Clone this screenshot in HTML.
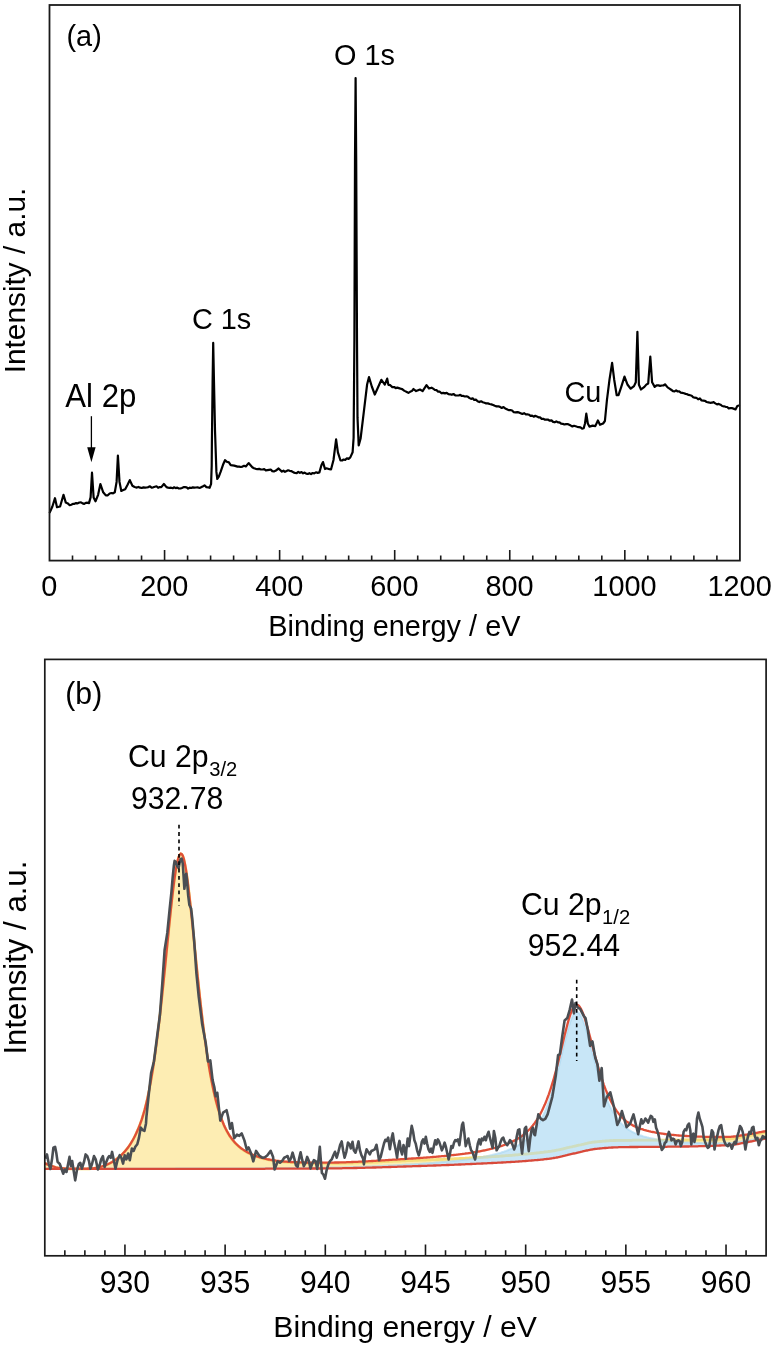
<!DOCTYPE html>
<html lang="en">
<head>
<meta charset="utf-8">
<title>XPS spectra</title>
<style>
html,body{margin:0;padding:0;background:#fff;}
body{width:775px;height:1346px;overflow:hidden;}
svg{display:block;will-change:transform;transform:translateZ(0);}
svg text{font-family:"Liberation Sans", sans-serif;fill:#000;}
</style>
</head>
<body>
<svg width="775" height="1346" viewBox="0 0 775 1346">
<rect width="775" height="1346" fill="#fff"/>
<g id="panel-a">
<polyline points="49.8,512.4 52.4,506.5 55.0,498.2 57.0,507.2 60.1,506.5 63.5,494.8 65.8,502.6 67.8,503.4 69.7,505.2 71.3,504.8 72.9,503.9 74.5,503.8 76.1,503.1 77.7,503.4 79.3,502.5 81.0,502.4 82.6,503.4 84.2,503.9 85.8,502.8 87.4,502.7 89.0,503.1 90.6,497.4 92.0,472.7 93.6,497.4 95.5,501.3 98.1,494.8 100.4,484.0 103.2,492.3 105.8,495.4 107.8,495.3 109.7,493.5 111.4,493.0 113.1,493.3 114.8,492.3 116.6,481.9 117.9,455.6 119.5,481.9 121.3,491.0 123.2,490.1 125.2,489.2 127.7,484.5 129.8,480.1 132.4,485.8 134.6,487.0 136.8,487.6 138.5,486.9 140.1,487.7 141.8,488.0 143.4,487.4 145.1,487.7 146.7,487.5 148.4,487.1 150.0,486.3 151.6,487.6 153.2,487.3 154.9,486.7 156.5,486.3 158.1,487.8 159.7,487.1 161.3,487.1 163.9,484.0 166.5,487.1 168.0,487.6 169.6,487.9 171.1,487.7 172.7,488.2 174.2,487.3 175.7,488.1 177.3,487.6 178.8,488.5 180.4,488.5 181.9,487.9 183.5,487.2 185.0,487.2 186.6,487.3 188.1,488.6 189.7,487.7 191.2,488.0 192.8,487.4 194.4,487.7 195.9,487.5 197.5,487.4 199.0,487.8 200.6,487.6 202.6,486.6 204.5,485.3 206.4,487.1 208.4,487.4 209.6,487.8 211.1,483.8 211.7,466.0 211.9,442.1 212.6,382.6 213.2,342.9 214.0,382.6 215.0,430.2 215.8,454.0 216.4,471.9 217.3,479.0 218.8,476.7 220.6,471.9 223.0,464.8 225.0,460.2 226.9,461.8 228.9,462.4 230.7,465.2 234.2,465.6 235.9,466.1 237.5,466.6 239.2,466.6 240.8,467.0 242.5,466.6 244.1,465.8 245.8,466.5 248.6,463.1 252.3,467.2 254.0,468.2 255.7,468.8 257.5,469.1 259.2,468.9 260.9,469.5 262.6,469.5 264.2,469.1 265.8,470.4 267.4,470.1 269.1,469.8 270.7,469.5 272.3,471.1 273.9,471.5 275.5,470.8 278.6,468.5 281.9,471.6 283.5,470.7 285.0,471.8 286.6,471.0 288.1,470.3 289.7,470.8 291.6,471.2 293.5,472.4 295.1,473.0 296.7,473.2 298.3,471.8 299.9,472.9 301.5,472.0 303.1,473.3 304.6,472.6 306.2,473.7 307.8,474.0 309.4,473.2 311.0,474.1 312.6,473.0 314.2,473.4 315.9,472.3 317.7,472.9 319.4,472.4 321.4,465.2 323.0,462.1 325.0,469.0 326.5,468.3 328.0,468.7 329.5,469.2 331.0,469.5 333.5,460.0 336.1,439.4 337.9,452.3 340.5,460.5 342.1,460.5 343.6,459.5 345.2,460.0 346.9,458.3 348.6,458.9 350.3,457.4 352.6,452.3 353.6,438.0 354.4,340.0 355.0,160.0 355.6,78.1 356.2,160.0 357.0,340.0 357.5,417.4 358.7,445.5 360.6,438.5 363.7,412.8 367.1,384.5 369.0,377.1 371.8,386.5 374.8,394.5 377.4,388.8 381.4,379.8 384.8,384.6 387.2,378.6 388.4,384.8 390.3,385.2 392.3,387.1 394.2,387.0 395.7,388.1 397.3,387.6 398.8,388.1 400.4,388.6 401.9,389.0 403.5,390.2 405.1,391.1 406.8,392.0 408.4,392.9 410.1,391.8 411.8,391.1 413.5,389.0 416.1,391.1 418.1,390.3 420.0,389.5 422.6,391.1 426.5,385.2 429.0,388.5 431.6,387.7 433.2,388.6 434.9,390.0 436.5,390.2 438.1,391.6 439.8,391.7 441.5,393.3 443.2,392.9 445.0,393.4 446.7,392.9 448.4,394.2 450.1,394.3 451.8,394.8 453.5,394.0 455.3,395.3 457.0,395.5 458.7,395.5 460.3,394.9 461.8,396.0 463.4,395.9 464.9,396.5 466.5,396.3 468.0,396.8 469.6,398.1 471.1,398.9 472.7,398.3 474.2,399.9 475.9,399.6 477.6,401.2 479.4,402.1 481.1,401.3 482.8,402.2 484.5,402.7 486.2,403.4 487.9,403.4 489.6,404.0 491.4,404.4 493.1,405.0 494.8,405.8 496.5,406.4 498.3,406.3 500.0,406.9 501.7,408.0 503.5,407.1 505.2,408.4 506.9,409.2 508.6,410.1 510.4,410.0 512.1,410.5 513.8,412.2 515.5,412.3 517.2,412.2 518.9,412.4 520.6,413.2 522.4,414.0 524.1,413.2 525.8,414.3 527.4,414.3 529.0,414.7 530.5,415.9 532.1,415.6 533.7,416.7 535.3,415.8 536.8,416.4 538.4,417.3 540.0,417.4 541.7,418.9 543.3,418.8 545.0,419.7 546.6,419.5 548.2,419.7 549.8,420.7 551.5,420.4 553.1,421.9 554.7,422.3 556.3,421.4 557.9,422.3 559.5,422.3 561.1,423.7 562.7,423.8 564.3,424.5 566.0,424.1 567.6,424.1 569.2,424.8 570.8,425.6 572.4,426.5 574.0,425.8 575.6,426.3 577.2,426.8 578.9,427.1 580.5,427.4 582.1,428.6 583.7,428.2 585.0,423.5 586.3,413.7 587.8,423.5 589.4,426.6 592.7,425.6 595.3,426.1 597.9,420.5 600.0,424.8 603.1,423.5 604.9,421.0 606.9,400.3 609.5,379.7 612.1,362.9 614.2,379.7 616.7,395.2 618.5,395.2 621.1,387.4 624.5,376.6 627.6,384.8 630.7,388.7 634.0,386.1 635.8,382.3 637.4,331.9 638.9,384.8 641.0,389.5 644.4,386.9 646.3,384.6 648.2,383.5 650.3,356.5 652.1,382.3 654.7,386.9 656.6,385.3 658.5,385.4 660.1,385.9 661.8,385.5 663.4,385.5 665.0,384.3 667.6,387.4 669.5,388.6 671.5,390.0 673.0,391.1 674.6,391.3 676.1,390.3 677.7,391.5 679.2,391.3 680.8,392.6 682.4,392.9 684.0,393.3 685.6,393.9 687.1,394.2 688.6,394.9 690.2,395.3 691.7,395.7 693.2,397.2 694.7,397.7 696.4,397.8 698.1,399.3 699.9,398.4 701.6,400.5 703.3,400.6 705.0,400.8 706.7,402.0 708.4,402.4 710.1,402.8 711.9,402.7 713.6,402.1 715.3,403.4 717.0,404.4 718.7,403.9 720.5,404.7 722.2,406.0 723.9,406.3 725.6,406.8 727.2,407.0 728.7,408.3 730.3,408.1 731.8,408.0 733.4,408.6 735.5,409.4 737.3,406.0 739.0,405.5" fill="none" stroke="#000" stroke-width="2.2" stroke-linejoin="round" stroke-linecap="round"/>
<rect x="49.5" y="5.0" width="690.4" height="555.6" fill="none" stroke="#1a1a1a" stroke-width="1.8"/>
<path d="M72.51,560.6v-5.2M95.53,560.6v-5.2M118.54,560.6v-5.2M141.55,560.6v-5.2M164.57,560.6v-10.5M187.58,560.6v-5.2M210.59,560.6v-5.2M233.61,560.6v-5.2M256.62,560.6v-5.2M279.63,560.6v-10.5M302.65,560.6v-5.2M325.66,560.6v-5.2M348.67,560.6v-5.2M371.69,560.6v-5.2M394.70,560.6v-10.5M417.71,560.6v-5.2M440.73,560.6v-5.2M463.74,560.6v-5.2M486.75,560.6v-5.2M509.77,560.6v-10.5M532.78,560.6v-5.2M555.79,560.6v-5.2M578.81,560.6v-5.2M601.82,560.6v-5.2M624.83,560.6v-10.5M647.85,560.6v-5.2M670.86,560.6v-5.2M693.87,560.6v-5.2M716.89,560.6v-5.2" stroke="#1a1a1a" stroke-width="1.6" fill="none"/>
<text transform="translate(49.2,595.8) scale(1,1.045)" text-anchor="middle" font-size="28.9">0</text>
<text transform="translate(164.3,595.8) scale(1,1.045)" text-anchor="middle" font-size="28.9">200</text>
<text transform="translate(279.3,595.8) scale(1,1.045)" text-anchor="middle" font-size="28.9">400</text>
<text transform="translate(394.4,595.8) scale(1,1.045)" text-anchor="middle" font-size="28.9">600</text>
<text transform="translate(509.5,595.8) scale(1,1.045)" text-anchor="middle" font-size="28.9">800</text>
<text transform="translate(624.5,595.8) scale(1,1.045)" text-anchor="middle" font-size="28.9">1000</text>
<text transform="translate(739.6,595.8) scale(1,1.045)" text-anchor="middle" font-size="28.9">1200</text>
<text transform="translate(394.4,636.0) scale(1,1.0)" text-anchor="middle" font-size="28.9">Binding energy / eV</text>
<text transform="translate(24.7,280.5) rotate(-90) scale(1.032,1.04)" text-anchor="middle" font-size="28.9">Intensity / a.u.</text>
<text transform="translate(66.5,45.5) scale(1,1.045)" font-size="28.9">(a)</text>
<text transform="translate(334.0,65.2) scale(1,1.045)" font-size="28.9">O 1s</text>
<text transform="translate(191.9,329.4) scale(1,1.045)" font-size="28.9">C 1s</text>
<text transform="translate(65.3,406.5) scale(1,1.045)" font-size="31.2">Al 2p</text>
<text transform="translate(564.4,401.8) scale(1,1.045)" font-size="28.9">Cu</text>
<path d="M91.4,416.2V448" stroke="#000" stroke-width="1.3" fill="none"/>
<path d="M87.2,447.2H95.6L91.4,462.3Z" fill="#000"/>
</g>
<g id="panel-b">
<clipPath id="cb"><rect x="44.8" y="659.4" width="721.3" height="596.4"/></clipPath>
<g clip-path="url(#cb)">
<polygon points="44.8,1163.3 45.8,1163.7 46.8,1164.2 47.8,1164.6 48.8,1165.1 49.8,1165.5 50.8,1165.9 51.8,1166.2 52.8,1166.5 53.8,1166.8 54.8,1167.1 55.8,1167.4 56.8,1167.6 57.8,1167.9 58.8,1168.1 59.8,1168.2 60.8,1168.4 61.8,1168.5 62.8,1168.5 63.8,1168.6 64.8,1168.7 65.8,1168.7 66.8,1168.8 67.8,1168.8 68.8,1168.8 69.8,1168.9 70.8,1168.9 71.8,1168.9 72.8,1168.9 73.8,1168.9 74.8,1168.9 75.8,1168.9 76.8,1168.9 77.8,1168.9 78.8,1168.9 79.8,1168.9 80.8,1168.9 81.8,1168.9 82.8,1168.9 83.8,1168.9 84.8,1168.9 85.8,1168.9 86.8,1168.9 87.8,1168.9 88.8,1168.8 89.8,1168.8 90.8,1168.7 91.8,1168.6 92.8,1168.5 93.8,1168.4 94.8,1168.2 95.8,1168.1 96.8,1167.9 97.8,1167.7 98.8,1167.4 99.8,1167.2 100.8,1166.9 101.8,1166.6 102.8,1166.3 103.8,1166.0 104.8,1165.6 105.8,1165.2 106.8,1164.8 107.8,1164.4 108.8,1163.9 109.8,1163.4 110.8,1162.9 111.8,1162.3 112.8,1161.7 113.8,1161.1 114.8,1160.4 115.8,1159.7 116.8,1159.0 117.8,1158.2 118.8,1157.4 119.8,1156.6 120.8,1155.7 121.8,1154.7 122.8,1153.7 123.8,1152.7 124.8,1151.5 125.8,1150.4 126.8,1149.1 127.8,1147.8 128.8,1146.5 129.8,1145.0 130.8,1143.5 131.8,1141.9 132.8,1140.1 133.8,1138.3 134.8,1136.4 135.8,1134.4 136.8,1132.2 137.8,1129.9 138.8,1127.5 139.8,1125.0 140.8,1122.3 141.8,1119.4 142.8,1116.3 143.8,1113.0 144.8,1109.4 145.8,1105.5 146.8,1101.4 147.8,1096.9 148.8,1092.1 149.8,1087.0 150.8,1081.6 151.8,1075.8 152.8,1069.7 153.8,1063.2 154.8,1056.3 155.8,1049.1 156.8,1041.5 157.8,1033.6 158.8,1025.3 159.8,1016.7 160.8,1007.8 161.8,998.6 162.8,989.1 163.8,979.4 164.8,969.6 165.8,959.6 166.8,949.6 167.8,939.5 168.8,929.6 169.8,919.8 170.8,910.2 171.8,901.1 172.8,892.4 173.8,884.3 174.8,876.9 175.8,870.4 176.8,864.8 177.8,860.3 178.8,856.9 179.8,854.8 180.8,853.9 181.8,854.3 182.8,856.1 183.8,859.1 184.8,863.5 185.8,868.9 186.8,875.5 187.8,882.9 188.8,891.0 189.8,899.8 190.8,909.1 191.8,918.8 192.8,928.7 193.8,938.7 194.8,948.7 195.8,958.7 196.8,968.6 197.8,978.4 198.8,987.9 199.8,997.1 200.8,1006.1 201.8,1014.7 202.8,1023.1 203.8,1031.0 204.8,1038.7 205.8,1045.9 206.8,1052.9 207.8,1059.4 208.8,1065.7 209.8,1071.6 210.8,1077.2 211.8,1082.4 212.8,1087.4 213.8,1092.0 214.8,1096.4 215.8,1100.5 216.8,1104.3 217.8,1107.9 218.8,1111.2 219.8,1114.4 220.8,1117.3 221.8,1120.0 222.8,1122.6 223.8,1125.0 224.8,1127.2 225.8,1129.2 226.8,1131.2 227.8,1133.0 228.8,1134.7 229.8,1136.3 230.8,1137.7 231.8,1139.1 232.8,1140.4 233.8,1141.6 234.8,1142.8 235.8,1143.8 236.8,1144.8 237.8,1145.8 238.8,1146.7 239.8,1147.5 240.8,1148.3 241.8,1149.0 242.8,1149.8 243.8,1150.4 244.8,1151.1 245.8,1151.7 246.8,1152.2 247.8,1152.8 248.8,1153.3 249.8,1153.8 250.8,1154.3 251.8,1154.7 252.8,1155.1 253.8,1155.6 254.8,1155.9 255.8,1156.3 256.8,1156.7 257.8,1157.0 258.8,1157.3 259.8,1157.6 260.8,1157.9 261.8,1158.2 262.8,1158.5 263.8,1158.8 264.8,1159.0 265.8,1159.2 266.8,1159.5 267.8,1159.7 268.8,1159.9 269.8,1160.1 270.8,1160.3 271.8,1160.5 272.8,1160.7 273.8,1160.8 274.8,1161.0 275.8,1161.1 276.8,1161.2 277.8,1161.4 278.8,1161.5 279.8,1161.6 280.8,1161.7 281.8,1161.8 282.8,1161.9 283.8,1162.0 284.8,1162.1 285.8,1162.2 286.8,1162.2 287.8,1162.3 288.8,1162.4 289.8,1162.4 290.8,1162.5 291.8,1162.5 292.8,1162.6 293.8,1162.6 294.8,1162.7 295.8,1162.7 296.8,1162.8 297.8,1162.8 298.8,1162.9 299.8,1162.9 300.8,1162.9 301.8,1163.0 302.8,1163.0 303.8,1163.1 304.8,1163.1 305.8,1163.1 306.8,1163.1 307.8,1163.2 308.8,1163.2 309.8,1163.2 310.8,1163.2 311.8,1163.2 312.8,1163.3 313.8,1163.3 314.8,1163.3 315.8,1163.3 316.8,1163.3 317.8,1163.3 318.8,1163.3 319.8,1163.3 320.8,1163.3 321.8,1163.4 322.8,1163.4 323.8,1163.4 324.8,1163.4 325.8,1163.4 326.8,1163.4 327.8,1163.4 328.8,1163.4 329.8,1163.4 330.8,1163.4 331.8,1163.4 332.8,1163.3 333.8,1163.3 334.8,1163.3 335.8,1163.3 336.8,1163.3 337.8,1163.3 338.8,1163.3 339.8,1163.3 340.8,1163.3 341.8,1163.2 342.8,1163.2 343.8,1163.2 344.8,1163.2 345.8,1163.2 346.8,1163.1 347.8,1163.1 348.8,1163.1 349.8,1163.0 350.8,1163.0 351.8,1163.0 352.8,1163.0 353.8,1162.9 354.8,1162.9 355.8,1162.9 356.8,1162.8 357.8,1162.8 358.8,1162.8 359.8,1162.7 360.8,1162.7 361.8,1162.6 362.8,1162.6 363.8,1162.6 364.8,1162.5 365.8,1162.5 366.8,1162.4 367.8,1162.4 368.8,1162.4 369.8,1162.3 370.8,1162.3 371.8,1162.2 372.8,1162.2 373.8,1162.1 374.8,1162.1 375.8,1162.1 376.8,1162.0 377.8,1162.0 378.8,1161.9 379.8,1161.9 380.8,1161.8 381.8,1161.8 382.8,1161.7 383.8,1161.7 384.8,1161.6 385.8,1161.6 386.8,1161.6 387.8,1161.5 388.8,1161.5 389.8,1161.4 390.8,1161.4 391.8,1161.3 392.8,1161.3 393.8,1161.2 394.8,1161.2 395.8,1161.2 396.8,1161.1 397.8,1161.1 398.8,1161.0 399.8,1161.0 400.8,1161.0 401.8,1160.9 402.8,1160.9 403.8,1160.8 404.8,1160.8 405.8,1160.8 406.8,1160.7 407.8,1160.7 408.8,1160.6 409.8,1160.6 410.8,1160.6 411.8,1160.5 412.8,1160.5 413.8,1160.4 414.8,1160.4 415.8,1160.4 416.8,1160.3 417.8,1160.3 418.8,1160.2 419.8,1160.2 420.8,1160.2 421.8,1160.1 422.8,1160.1 423.8,1160.1 424.8,1160.0 425.8,1160.0 426.8,1159.9 427.8,1159.9 428.8,1159.9 429.8,1159.8 430.8,1159.8 431.8,1159.7 432.8,1159.7 433.8,1159.7 434.8,1159.6 435.8,1159.6 436.8,1159.5 437.8,1159.5 438.8,1159.5 439.8,1159.4 440.8,1159.4 441.8,1159.3 442.8,1159.3 443.8,1159.2 444.8,1159.2 445.8,1159.2 446.8,1159.1 447.8,1159.1 448.8,1159.0 449.8,1159.0 450.8,1158.9 451.8,1158.9 452.8,1158.8 453.8,1158.8 454.8,1158.7 455.8,1158.7 456.8,1158.7 457.8,1158.6 458.8,1158.6 459.8,1158.5 460.8,1158.5 461.8,1158.4 462.8,1158.4 463.8,1158.3 464.8,1158.3 465.8,1158.2 466.8,1158.2 467.8,1158.1 468.8,1158.1 469.8,1158.0 470.8,1157.9 471.8,1157.9 472.8,1157.8 473.8,1157.8 474.8,1157.7 475.8,1157.7 476.8,1157.6 477.8,1157.6 478.8,1157.5 479.8,1157.5 480.8,1157.4 481.8,1157.3 482.8,1157.3 483.8,1157.2 484.8,1157.2 485.8,1157.1 486.8,1157.0 487.8,1157.0 488.8,1156.9 489.8,1156.9 490.8,1156.8 491.8,1156.7 492.8,1156.7 493.8,1156.6 494.8,1156.5 495.8,1156.5 496.8,1156.4 497.8,1156.3 498.8,1156.3 499.8,1156.2 500.8,1156.1 501.8,1156.0 502.8,1156.0 503.8,1155.9 504.8,1155.8 505.8,1155.7 506.8,1155.7 507.8,1155.6 508.8,1155.5 509.8,1155.4 510.8,1155.4 511.8,1155.3 512.8,1155.2 513.8,1155.1 514.8,1155.0 515.8,1154.9 516.8,1154.9 517.8,1154.8 518.8,1154.7 519.8,1154.6 520.8,1154.5 521.8,1154.4 522.8,1154.3 523.8,1154.2 524.8,1154.2 525.8,1154.1 526.8,1154.0 527.8,1153.9 528.8,1153.8 529.8,1153.7 530.8,1153.6 531.8,1153.5 532.8,1153.4 533.8,1153.3 534.8,1153.2 535.8,1153.1 536.8,1153.0 537.8,1152.9 538.8,1152.8 539.8,1152.6 540.8,1152.5 541.8,1152.4 542.8,1152.3 543.8,1152.2 544.8,1152.0 545.8,1151.9 546.8,1151.8 547.8,1151.7 548.8,1151.5 549.8,1151.4 550.8,1151.3 551.8,1151.1 552.8,1150.9 553.8,1150.8 554.8,1150.6 555.8,1150.4 556.8,1150.2 557.8,1150.0 558.8,1149.8 559.8,1149.6 560.8,1149.3 561.8,1149.1 562.8,1148.9 563.8,1148.6 564.8,1148.4 565.8,1148.2 566.8,1147.9 567.8,1147.7 568.8,1147.5 569.8,1147.2 570.8,1147.0 571.8,1146.8 572.8,1146.5 573.8,1146.3 574.8,1146.1 575.8,1145.9 576.8,1145.6 577.8,1145.4 578.8,1145.2 579.8,1145.0 580.8,1144.8 581.8,1144.5 582.8,1144.3 583.8,1144.1 584.8,1143.8 585.8,1143.6 586.8,1143.4 587.8,1143.1 588.8,1142.9 589.8,1142.7 590.8,1142.6 591.8,1142.4 592.8,1142.2 593.8,1142.1 594.8,1142.0 595.8,1141.9 596.8,1141.8 597.8,1141.7 598.8,1141.6 599.8,1141.5 600.8,1141.4 601.8,1141.3 602.8,1141.2 603.8,1141.2 604.8,1141.1 605.8,1141.0 606.8,1140.9 607.8,1140.9 608.8,1140.8 609.8,1140.7 610.8,1140.7 611.8,1140.6 612.8,1140.6 613.8,1140.5 614.8,1140.5 615.8,1140.5 616.8,1140.4 617.8,1140.4 618.8,1140.4 619.8,1140.4 620.8,1140.4 621.8,1140.3 622.8,1140.3 623.8,1140.3 624.8,1140.3 625.8,1140.3 626.8,1140.3 627.8,1140.3 628.8,1140.3 629.8,1140.3 630.8,1140.3 631.8,1140.3 632.8,1140.2 633.8,1140.2 634.8,1140.2 635.8,1140.2 636.8,1140.2 637.8,1140.2 638.8,1140.2 639.8,1140.2 640.8,1140.2 641.8,1140.2 642.8,1140.2 643.8,1140.2 644.8,1140.2 645.8,1140.2 646.8,1140.2 647.8,1140.2 648.8,1140.2 649.8,1140.2 650.8,1140.2 651.8,1140.2 652.8,1140.2 653.8,1140.2 654.8,1140.2 655.8,1140.2 656.8,1140.2 657.8,1140.2 658.8,1140.2 659.8,1140.2 660.8,1140.2 661.8,1140.2 662.8,1140.2 663.8,1140.2 664.8,1140.2 665.8,1140.2 666.8,1140.2 667.8,1140.2 668.8,1140.2 669.8,1140.2 670.8,1140.1 671.8,1140.1 672.8,1140.1 673.8,1140.1 674.8,1140.1 675.8,1140.1 676.8,1140.1 677.8,1140.1 678.8,1140.1 679.8,1140.1 680.8,1140.1 681.8,1140.1 682.8,1140.0 683.8,1140.0 684.8,1140.0 685.8,1140.0 686.8,1140.0 687.8,1140.0 688.8,1140.0 689.8,1140.0 690.8,1139.9 691.8,1139.9 692.8,1139.9 693.8,1139.9 694.8,1139.9 695.8,1139.9 696.8,1139.9 697.8,1139.8 698.8,1139.8 699.8,1139.8 700.8,1139.8 701.8,1139.8 702.8,1139.7 703.8,1139.7 704.8,1139.7 705.8,1139.7 706.8,1139.6 707.8,1139.6 708.8,1139.6 709.8,1139.6 710.8,1139.5 711.8,1139.5 712.8,1139.5 713.8,1139.4 714.8,1139.4 715.8,1139.4 716.8,1139.3 717.8,1139.3 718.8,1139.3 719.8,1139.2 720.8,1139.2 721.8,1139.2 722.8,1139.1 723.8,1139.1 724.8,1139.0 725.8,1139.0 726.8,1138.9 727.8,1138.9 728.8,1138.8 729.8,1138.8 730.8,1138.7 731.8,1138.6 732.8,1138.5 733.8,1138.4 734.8,1138.3 735.8,1138.1 736.8,1137.9 737.8,1137.8 738.8,1137.6 739.8,1137.4 740.8,1137.2 741.8,1137.0 742.8,1136.8 743.8,1136.7 744.8,1136.5 745.8,1136.3 746.8,1136.1 747.8,1136.0 748.8,1135.8 749.8,1135.6 750.8,1135.4 751.8,1135.2 752.8,1135.0 753.8,1134.8 754.8,1134.6 755.8,1134.4 756.8,1134.2 757.8,1134.0 758.8,1133.8 759.8,1133.6 760.8,1133.3 761.8,1133.1 762.8,1132.9 763.8,1132.7 764.8,1132.5 765.8,1132.3 766.1,1132.3 766.1,1137.1 765.8,1137.1 764.8,1137.3 763.8,1137.5 762.8,1137.7 761.8,1137.9 760.8,1138.1 759.8,1138.3 758.8,1138.5 757.8,1138.7 756.8,1138.9 755.8,1139.1 754.8,1139.3 753.8,1139.5 752.8,1139.7 751.8,1139.8 750.8,1140.0 749.8,1140.2 748.8,1140.4 747.8,1140.6 746.8,1140.7 745.8,1140.9 744.8,1141.0 743.8,1141.2 742.8,1141.4 741.8,1141.5 740.8,1141.7 739.8,1141.9 738.8,1142.1 737.8,1142.2 736.8,1142.4 735.8,1142.5 734.8,1142.6 733.8,1142.8 732.8,1142.9 731.8,1142.9 730.8,1143.0 729.8,1143.1 728.8,1143.1 727.8,1143.1 726.8,1143.1 725.8,1143.2 724.8,1143.2 723.8,1143.2 722.8,1143.2 721.8,1143.2 720.8,1143.3 719.8,1143.3 718.8,1143.3 717.8,1143.3 716.8,1143.3 715.8,1143.3 714.8,1143.3 713.8,1143.3 712.8,1143.3 711.8,1143.3 710.8,1143.3 709.8,1143.3 708.8,1143.3 707.8,1143.3 706.8,1143.2 705.8,1143.2 704.8,1143.2 703.8,1143.2 702.8,1143.2 701.8,1143.1 700.8,1143.1 699.8,1143.1 698.8,1143.1 697.8,1143.0 696.8,1143.0 695.8,1143.0 694.8,1142.9 693.8,1142.9 692.8,1142.8 691.8,1142.8 690.8,1142.7 689.8,1142.7 688.8,1142.6 687.8,1142.6 686.8,1142.5 685.8,1142.5 684.8,1142.4 683.8,1142.4 682.8,1142.3 681.8,1142.2 680.8,1142.2 679.8,1142.1 678.8,1142.0 677.8,1141.9 676.8,1141.9 675.8,1141.8 674.8,1141.7 673.8,1141.6 672.8,1141.5 671.8,1141.4 670.8,1141.3 669.8,1141.2 668.8,1141.1 667.8,1141.0 666.8,1140.8 665.8,1140.7 664.8,1140.6 663.8,1140.5 662.8,1140.3 661.8,1140.2 660.8,1140.2 659.8,1140.2 658.8,1140.2 657.8,1140.2 656.8,1140.2 655.8,1140.2 654.8,1140.2 653.8,1140.2 652.8,1140.2 651.8,1140.2 650.8,1140.2 649.8,1140.2 648.8,1140.2 647.8,1140.2 646.8,1140.2 645.8,1140.2 644.8,1140.2 643.8,1140.2 642.8,1140.2 641.8,1140.2 640.8,1140.2 639.8,1140.2 638.8,1140.2 637.8,1140.2 636.8,1140.2 635.8,1140.2 634.8,1140.2 633.8,1140.2 632.8,1140.2 631.8,1140.3 630.8,1140.3 629.8,1140.3 628.8,1140.3 627.8,1140.3 626.8,1140.3 625.8,1140.3 624.8,1140.3 623.8,1140.3 622.8,1140.3 621.8,1140.3 620.8,1140.4 619.8,1140.4 618.8,1140.4 617.8,1140.4 616.8,1140.4 615.8,1140.5 614.8,1140.5 613.8,1140.5 612.8,1140.6 611.8,1140.6 610.8,1140.7 609.8,1140.7 608.8,1140.8 607.8,1140.9 606.8,1140.9 605.8,1141.0 604.8,1141.1 603.8,1141.2 602.8,1141.2 601.8,1141.3 600.8,1141.4 599.8,1141.5 598.8,1141.6 597.8,1141.7 596.8,1141.8 595.8,1141.9 594.8,1142.0 593.8,1142.1 592.8,1142.2 591.8,1142.4 590.8,1142.6 589.8,1142.7 588.8,1142.9 587.8,1143.1 586.8,1143.4 585.8,1143.6 584.8,1143.8 583.8,1144.1 582.8,1144.3 581.8,1144.5 580.8,1144.8 579.8,1145.0 578.8,1145.2 577.8,1145.4 576.8,1145.6 575.8,1145.9 574.8,1146.1 573.8,1146.3 572.8,1146.5 571.8,1146.8 570.8,1147.0 569.8,1147.2 568.8,1147.5 567.8,1147.7 566.8,1147.9 565.8,1148.2 564.8,1148.4 563.8,1148.6 562.8,1148.9 561.8,1149.1 560.8,1149.3 559.8,1149.6 558.8,1149.8 557.8,1150.0 556.8,1150.2 555.8,1150.4 554.8,1150.6 553.8,1150.8 552.8,1150.9 551.8,1151.1 550.8,1151.3 549.8,1151.4 548.8,1151.5 547.8,1151.7 546.8,1151.8 545.8,1151.9 544.8,1152.0 543.8,1152.2 542.8,1152.3 541.8,1152.4 540.8,1152.5 539.8,1152.6 538.8,1152.8 537.8,1152.9 536.8,1153.0 535.8,1153.1 534.8,1153.2 533.8,1153.3 532.8,1153.4 531.8,1153.5 530.8,1153.6 529.8,1153.7 528.8,1153.8 527.8,1153.9 526.8,1154.0 525.8,1154.1 524.8,1154.2 523.8,1154.2 522.8,1154.3 521.8,1154.4 520.8,1154.5 519.8,1154.6 518.8,1154.7 517.8,1154.8 516.8,1154.9 515.8,1154.9 514.8,1155.0 513.8,1155.1 512.8,1155.2 511.8,1155.3 510.8,1155.4 509.8,1155.4 508.8,1155.5 507.8,1155.6 506.8,1155.7 505.8,1155.7 504.8,1155.8 503.8,1155.9 502.8,1156.0 501.8,1156.0 500.8,1156.1 499.8,1156.2 498.8,1156.3 497.8,1156.3 496.8,1156.4 495.8,1156.5 494.8,1156.5 493.8,1156.6 492.8,1156.7 491.8,1156.7 490.8,1156.8 489.8,1156.9 488.8,1156.9 487.8,1157.0 486.8,1157.0 485.8,1157.1 484.8,1157.2 483.8,1157.2 482.8,1157.3 481.8,1157.3 480.8,1157.4 479.8,1157.5 478.8,1157.6 477.8,1157.8 476.8,1158.0 475.8,1158.1 474.8,1158.3 473.8,1158.5 472.8,1158.6 471.8,1158.8 470.8,1158.9 469.8,1159.0 468.8,1159.2 467.8,1159.3 466.8,1159.4 465.8,1159.6 464.8,1159.7 463.8,1159.8 462.8,1160.0 461.8,1160.1 460.8,1160.2 459.8,1160.3 458.8,1160.4 457.8,1160.6 456.8,1160.7 455.8,1160.8 454.8,1160.9 453.8,1161.0 452.8,1161.1 451.8,1161.2 450.8,1161.3 449.8,1161.4 448.8,1161.5 447.8,1161.6 446.8,1161.7 445.8,1161.8 444.8,1161.9 443.8,1162.0 442.8,1162.1 441.8,1162.1 440.8,1162.2 439.8,1162.3 438.8,1162.4 437.8,1162.5 436.8,1162.6 435.8,1162.6 434.8,1162.7 433.8,1162.8 432.8,1162.9 431.8,1163.0 430.8,1163.0 429.8,1163.1 428.8,1163.2 427.8,1163.3 426.8,1163.3 425.8,1163.4 424.8,1163.5 423.8,1163.5 422.8,1163.6 421.8,1163.7 420.8,1163.7 419.8,1163.8 418.8,1163.9 417.8,1163.9 416.8,1164.0 415.8,1164.0 414.8,1164.1 413.8,1164.2 412.8,1164.2 411.8,1164.3 410.8,1164.3 409.8,1164.4 408.8,1164.5 407.8,1164.5 406.8,1164.6 405.8,1164.6 404.8,1164.7 403.8,1164.8 402.8,1164.8 401.8,1164.9 400.8,1164.9 399.8,1165.0 398.8,1165.0 397.8,1165.1 396.8,1165.2 395.8,1165.2 394.8,1165.3 393.8,1165.3 392.8,1165.4 391.8,1165.4 390.8,1165.5 389.8,1165.5 388.8,1165.6 387.8,1165.6 386.8,1165.7 385.8,1165.7 384.8,1165.8 383.8,1165.8 382.8,1165.9 381.8,1165.9 380.8,1166.0 379.8,1166.0 378.8,1166.1 377.8,1166.1 376.8,1166.2 375.8,1166.2 374.8,1166.2 373.8,1166.3 372.8,1166.3 371.8,1166.4 370.8,1166.4 369.8,1166.5 368.8,1166.5 367.8,1166.5 366.8,1166.6 365.8,1166.6 364.8,1166.7 363.8,1166.7 362.8,1166.7 361.8,1166.8 360.8,1166.8 359.8,1166.9 358.8,1166.9 357.8,1166.9 356.8,1167.0 355.8,1167.0 354.8,1167.0 353.8,1167.1 352.8,1167.1 351.8,1167.1 350.8,1167.2 349.8,1167.2 348.8,1167.2 347.8,1167.2 346.8,1167.3 345.8,1167.3 344.8,1167.3 343.8,1167.4 342.8,1167.4 341.8,1167.4 340.8,1167.4 339.8,1167.5 338.8,1167.5 337.8,1167.5 336.8,1167.5 335.8,1167.5 334.8,1167.6 333.8,1167.6 332.8,1167.6 331.8,1167.6 330.8,1167.6 329.8,1167.6 328.8,1167.7 327.8,1167.7 326.8,1167.7 325.8,1167.7 324.8,1167.7 323.8,1167.7 322.8,1167.7 321.8,1167.8 320.8,1167.8 319.8,1167.8 318.8,1167.8 317.8,1167.8 316.8,1167.8 315.8,1167.8 314.8,1167.9 313.8,1167.9 312.8,1167.9 311.8,1167.9 310.8,1167.9 309.8,1167.9 308.8,1167.9 307.8,1167.9 306.8,1168.0 305.8,1168.0 304.8,1168.0 303.8,1168.0 302.8,1168.0 301.8,1168.0 300.8,1168.0 299.8,1168.0 298.8,1168.0 297.8,1168.1 296.8,1168.1 295.8,1168.1 294.8,1168.1 293.8,1168.1 292.8,1168.1 291.8,1168.1 290.8,1168.1 289.8,1168.1 288.8,1168.1 287.8,1168.2 286.8,1168.2 285.8,1168.2 284.8,1168.2 283.8,1168.2 282.8,1168.2 281.8,1168.2 280.8,1168.2 279.8,1168.2 278.8,1168.2 277.8,1168.2 276.8,1168.3 275.8,1168.3 274.8,1168.3 273.8,1168.3 272.8,1168.3 271.8,1168.3 270.8,1168.3 269.8,1168.3 268.8,1168.3 267.8,1168.3 266.8,1168.3 265.8,1168.3 264.8,1168.3 263.8,1168.3 262.8,1168.4 261.8,1168.4 260.8,1168.4 259.8,1168.4 258.8,1168.4 257.8,1168.4 256.8,1168.4 255.8,1168.4 254.8,1168.4 253.8,1168.4 252.8,1168.4 251.8,1168.4 250.8,1168.4 249.8,1168.4 248.8,1168.4 247.8,1168.4 246.8,1168.4 245.8,1168.4 244.8,1168.5 243.8,1168.5 242.8,1168.5 241.8,1168.5 240.8,1168.5 239.8,1168.5 238.8,1168.5 237.8,1168.5 236.8,1168.5 235.8,1168.5 234.8,1168.5 233.8,1168.5 232.8,1168.5 231.8,1168.5 230.8,1168.5 229.8,1168.5 228.8,1168.5 227.8,1168.5 226.8,1168.5 225.8,1168.5 224.8,1168.5 223.8,1168.5 222.8,1168.5 221.8,1168.5 220.8,1168.5 219.8,1168.5 218.8,1168.5 217.8,1168.5 216.8,1168.5 215.8,1168.6 214.8,1168.6 213.8,1168.6 212.8,1168.6 211.8,1168.6 210.8,1168.6 209.8,1168.6 208.8,1168.6 207.8,1168.6 206.8,1168.6 205.8,1168.6 204.8,1168.6 203.8,1168.6 202.8,1168.6 201.8,1168.6 200.8,1168.6 199.8,1168.6 198.8,1168.6 197.8,1168.6 196.8,1168.6 195.8,1168.6 194.8,1168.6 193.8,1168.6 192.8,1168.6 191.8,1168.6 190.8,1168.6 189.8,1168.6 188.8,1168.6 187.8,1168.6 186.8,1168.6 185.8,1168.6 184.8,1168.6 183.8,1168.6 182.8,1168.6 181.8,1168.6 180.8,1168.6 179.8,1168.6 178.8,1168.6 177.8,1168.6 176.8,1168.6 175.8,1168.6 174.8,1168.7 173.8,1168.7 172.8,1168.7 171.8,1168.7 170.8,1168.7 169.8,1168.7 168.8,1168.7 167.8,1168.7 166.8,1168.7 165.8,1168.7 164.8,1168.7 163.8,1168.7 162.8,1168.7 161.8,1168.7 160.8,1168.7 159.8,1168.7 158.8,1168.7 157.8,1168.7 156.8,1168.7 155.8,1168.7 154.8,1168.7 153.8,1168.7 152.8,1168.7 151.8,1168.7 150.8,1168.7 149.8,1168.7 148.8,1168.7 147.8,1168.7 146.8,1168.7 145.8,1168.7 144.8,1168.7 143.8,1168.7 142.8,1168.7 141.8,1168.7 140.8,1168.7 139.8,1168.7 138.8,1168.7 137.8,1168.7 136.8,1168.7 135.8,1168.7 134.8,1168.7 133.8,1168.7 132.8,1168.7 131.8,1168.7 130.8,1168.7 129.8,1168.7 128.8,1168.7 127.8,1168.7 126.8,1168.7 125.8,1168.7 124.8,1168.7 123.8,1168.7 122.8,1168.7 121.8,1168.7 120.8,1168.7 119.8,1168.7 118.8,1168.7 117.8,1168.7 116.8,1168.7 115.8,1168.7 114.8,1168.7 113.8,1168.7 112.8,1168.7 111.8,1168.7 110.8,1168.7 109.8,1168.7 108.8,1168.8 107.8,1168.8 106.8,1168.8 105.8,1168.8 104.8,1168.8 103.8,1168.8 102.8,1168.8 101.8,1168.8 100.8,1168.8 99.8,1168.8 98.8,1168.8 97.8,1168.8 96.8,1168.8 95.8,1168.8 94.8,1168.8 93.8,1168.8 92.8,1168.8 91.8,1168.8 90.8,1168.8 89.8,1168.8 88.8,1168.8 87.8,1168.9 86.8,1168.9 85.8,1168.9 84.8,1168.9 83.8,1168.9 82.8,1168.9 81.8,1168.9 80.8,1168.9 79.8,1168.9 78.8,1168.9 77.8,1168.9 76.8,1168.9 75.8,1168.9 74.8,1168.9 73.8,1168.9 72.8,1168.9 71.8,1168.9 70.8,1168.9 69.8,1168.9 68.8,1168.8 67.8,1168.8 66.8,1168.8 65.8,1168.8 64.8,1168.8 63.8,1168.8 62.8,1168.8 61.8,1168.8 60.8,1168.8 59.8,1168.8 58.8,1168.8 57.8,1168.8 56.8,1168.8 55.8,1168.8 54.8,1168.8 53.8,1168.8 52.8,1168.8 51.8,1168.8 50.8,1168.8 49.8,1168.8 48.8,1168.8 47.8,1168.8 46.8,1168.8 45.8,1168.8 44.8,1168.8" fill="#fdedb3"/>
<polyline points="44.8,1163.3 45.8,1163.7 46.8,1164.2 47.8,1164.6 48.8,1165.1 49.8,1165.5 50.8,1165.9 51.8,1166.2 52.8,1166.5 53.8,1166.8 54.8,1167.1 55.8,1167.4 56.8,1167.6 57.8,1167.9 58.8,1168.1 59.8,1168.2 60.8,1168.4 61.8,1168.5 62.8,1168.5 63.8,1168.6 64.8,1168.7 65.8,1168.7 66.8,1168.8 67.8,1168.8 68.8,1168.8 69.8,1168.9 70.8,1168.9 71.8,1168.9 72.8,1168.9 73.8,1168.9 74.8,1168.9 75.8,1168.9 76.8,1168.9 77.8,1168.9 78.8,1168.9 79.8,1168.9 80.8,1168.9 81.8,1168.9 82.8,1168.9 83.8,1168.9 84.8,1168.9 85.8,1168.9 86.8,1168.9 87.8,1168.9 88.8,1168.8 89.8,1168.8 90.8,1168.7 91.8,1168.6 92.8,1168.5 93.8,1168.4 94.8,1168.2 95.8,1168.1 96.8,1167.9 97.8,1167.7 98.8,1167.4 99.8,1167.2 100.8,1166.9 101.8,1166.6 102.8,1166.3 103.8,1166.0 104.8,1165.6 105.8,1165.2 106.8,1164.8 107.8,1164.4 108.8,1163.9 109.8,1163.4 110.8,1162.9 111.8,1162.3 112.8,1161.7 113.8,1161.1 114.8,1160.4 115.8,1159.7 116.8,1159.0 117.8,1158.2 118.8,1157.4 119.8,1156.6 120.8,1155.7 121.8,1154.7 122.8,1153.7 123.8,1152.7 124.8,1151.5 125.8,1150.4 126.8,1149.1 127.8,1147.8 128.8,1146.5 129.8,1145.0 130.8,1143.5 131.8,1141.9 132.8,1140.1 133.8,1138.3 134.8,1136.4 135.8,1134.4 136.8,1132.2 137.8,1129.9 138.8,1127.5 139.8,1125.0 140.8,1122.3 141.8,1119.4 142.8,1116.3 143.8,1113.0 144.8,1109.4 145.8,1105.5 146.8,1101.4 147.8,1096.9 148.8,1092.1 149.8,1087.0 150.8,1081.6 151.8,1075.8 152.8,1069.7 153.8,1063.2 154.8,1056.3 155.8,1049.1 156.8,1041.5 157.8,1033.6 158.8,1025.3 159.8,1016.7 160.8,1007.8 161.8,998.6 162.8,989.1 163.8,979.4 164.8,969.6 165.8,959.6 166.8,949.6 167.8,939.5 168.8,929.6 169.8,919.8 170.8,910.2 171.8,901.1 172.8,892.4 173.8,884.3 174.8,876.9 175.8,870.4 176.8,864.8 177.8,860.3 178.8,856.9 179.8,854.8 180.8,853.9 181.8,854.3 182.8,856.1 183.8,859.1 184.8,863.5 185.8,868.9 186.8,875.5 187.8,882.9 188.8,891.0 189.8,899.8 190.8,909.1 191.8,918.8 192.8,928.7 193.8,938.7 194.8,948.7 195.8,958.7 196.8,968.6 197.8,978.4 198.8,987.9 199.8,997.1 200.8,1006.1 201.8,1014.7 202.8,1023.1 203.8,1031.0 204.8,1038.7 205.8,1045.9 206.8,1052.9 207.8,1059.4 208.8,1065.7 209.8,1071.6 210.8,1077.2 211.8,1082.4 212.8,1087.4 213.8,1092.0 214.8,1096.4 215.8,1100.5 216.8,1104.3 217.8,1107.9 218.8,1111.2 219.8,1114.4 220.8,1117.3 221.8,1120.0 222.8,1122.6 223.8,1125.0 224.8,1127.2 225.8,1129.2 226.8,1131.2 227.8,1133.0 228.8,1134.7 229.8,1136.3 230.8,1137.7 231.8,1139.1 232.8,1140.4 233.8,1141.6 234.8,1142.8 235.8,1143.8 236.8,1144.8 237.8,1145.8 238.8,1146.7 239.8,1147.5 240.8,1148.3 241.8,1149.0 242.8,1149.8 243.8,1150.4 244.8,1151.1 245.8,1151.7 246.8,1152.2 247.8,1152.8 248.8,1153.3 249.8,1153.8 250.8,1154.3 251.8,1154.7 252.8,1155.1 253.8,1155.6 254.8,1155.9 255.8,1156.3 256.8,1156.7 257.8,1157.0 258.8,1157.3 259.8,1157.6 260.8,1157.9 261.8,1158.2 262.8,1158.5 263.8,1158.8 264.8,1159.0 265.8,1159.2 266.8,1159.5 267.8,1159.7 268.8,1159.9 269.8,1160.1 270.8,1160.3 271.8,1160.5 272.8,1160.7 273.8,1160.8 274.8,1161.0 275.8,1161.1 276.8,1161.2 277.8,1161.4 278.8,1161.5 279.8,1161.6 280.8,1161.7 281.8,1161.8 282.8,1161.9 283.8,1162.0 284.8,1162.1 285.8,1162.2 286.8,1162.2 287.8,1162.3 288.8,1162.4 289.8,1162.4 290.8,1162.5 291.8,1162.5 292.8,1162.6 293.8,1162.6 294.8,1162.7 295.8,1162.7 296.8,1162.8 297.8,1162.8 298.8,1162.9 299.8,1162.9 300.8,1162.9 301.8,1163.0 302.8,1163.0 303.8,1163.1 304.8,1163.1 305.8,1163.1 306.8,1163.1 307.8,1163.2 308.8,1163.2 309.8,1163.2 310.8,1163.2 311.8,1163.2 312.8,1163.3 313.8,1163.3 314.8,1163.3 315.8,1163.3 316.8,1163.3 317.8,1163.3 318.8,1163.3 319.8,1163.3 320.8,1163.3 321.8,1163.4 322.8,1163.4 323.8,1163.4 324.8,1163.4 325.8,1163.4 326.8,1163.4 327.8,1163.4 328.8,1163.4 329.8,1163.4 330.8,1163.4 331.8,1163.4 332.8,1163.3 333.8,1163.3 334.8,1163.3 335.8,1163.3 336.8,1163.3 337.8,1163.3 338.8,1163.3 339.8,1163.3 340.8,1163.3 341.8,1163.2 342.8,1163.2 343.8,1163.2 344.8,1163.2 345.8,1163.2 346.8,1163.1 347.8,1163.1 348.8,1163.1 349.8,1163.0 350.8,1163.0 351.8,1163.0 352.8,1163.0 353.8,1162.9 354.8,1162.9 355.8,1162.9 356.8,1162.8 357.8,1162.8 358.8,1162.8 359.8,1162.7 360.8,1162.7 361.8,1162.6 362.8,1162.6 363.8,1162.6 364.8,1162.5 365.8,1162.5 366.8,1162.4 367.8,1162.4 368.8,1162.4 369.8,1162.3 370.8,1162.3 371.8,1162.2 372.8,1162.2 373.8,1162.1 374.8,1162.1 375.8,1162.1 376.8,1162.0 377.8,1162.0 378.8,1161.9 379.8,1161.9 380.8,1161.8 381.8,1161.8 382.8,1161.7 383.8,1161.7 384.8,1161.6 385.8,1161.6 386.8,1161.6 387.8,1161.5 388.8,1161.5 389.8,1161.4 390.8,1161.4 391.8,1161.3 392.8,1161.3 393.8,1161.2 394.8,1161.2 395.8,1161.2 396.8,1161.1 397.8,1161.1 398.8,1161.0 399.8,1161.0 400.8,1161.0 401.8,1160.9 402.8,1160.9 403.8,1160.8 404.8,1160.8 405.8,1160.8 406.8,1160.7 407.8,1160.7 408.8,1160.6 409.8,1160.6 410.8,1160.6 411.8,1160.5 412.8,1160.5 413.8,1160.4 414.8,1160.4 415.8,1160.4 416.8,1160.3 417.8,1160.3 418.8,1160.2 419.8,1160.2 420.8,1160.2 421.8,1160.1 422.8,1160.1 423.8,1160.1 424.8,1160.0 425.8,1160.0 426.8,1159.9 427.8,1159.9 428.8,1159.9 429.8,1159.8 430.8,1159.8 431.8,1159.7 432.8,1159.7 433.8,1159.7 434.8,1159.6 435.8,1159.6 436.8,1159.5 437.8,1159.5 438.8,1159.5 439.8,1159.4 440.8,1159.4 441.8,1159.3 442.8,1159.3 443.8,1159.2 444.8,1159.2 445.8,1159.2 446.8,1159.1 447.8,1159.1 448.8,1159.0 449.8,1159.0 450.8,1158.9 451.8,1158.9 452.8,1158.8 453.8,1158.8 454.8,1158.7 455.8,1158.7 456.8,1158.7 457.8,1158.6 458.8,1158.6 459.8,1158.5 460.8,1158.5 461.8,1158.4 462.8,1158.4 463.8,1158.3 464.8,1158.3 465.8,1158.2 466.8,1158.2 467.8,1158.1 468.8,1158.1 469.8,1158.0 470.8,1157.9 471.8,1157.9 472.8,1157.8 473.8,1157.8 474.8,1157.7 475.8,1157.7 476.8,1157.6 477.8,1157.6 478.8,1157.5 479.8,1157.5 480.8,1157.4 481.8,1157.3 482.8,1157.3 483.8,1157.2 484.8,1157.2 485.8,1157.1 486.8,1157.0 487.8,1157.0 488.8,1156.9 489.8,1156.9 490.8,1156.8 491.8,1156.7 492.8,1156.7 493.8,1156.6 494.8,1156.5 495.8,1156.5 496.8,1156.4 497.8,1156.3 498.8,1156.3 499.8,1156.2 500.8,1156.1 501.8,1156.0 502.8,1156.0 503.8,1155.9 504.8,1155.8 505.8,1155.7 506.8,1155.7 507.8,1155.6 508.8,1155.5 509.8,1155.4 510.8,1155.4 511.8,1155.3 512.8,1155.2 513.8,1155.1 514.8,1155.0 515.8,1154.9 516.8,1154.9 517.8,1154.8 518.8,1154.7 519.8,1154.6 520.8,1154.5 521.8,1154.4 522.8,1154.3 523.8,1154.2 524.8,1154.2 525.8,1154.1 526.8,1154.0 527.8,1153.9 528.8,1153.8 529.8,1153.7 530.8,1153.6 531.8,1153.5 532.8,1153.4 533.8,1153.3 534.8,1153.2 535.8,1153.1 536.8,1153.0 537.8,1152.9 538.8,1152.8 539.8,1152.6 540.8,1152.5 541.8,1152.4 542.8,1152.3 543.8,1152.2 544.8,1152.0 545.8,1151.9 546.8,1151.8 547.8,1151.7 548.8,1151.5 549.8,1151.4 550.8,1151.3 551.8,1151.1 552.8,1150.9 553.8,1150.8 554.8,1150.6 555.8,1150.4 556.8,1150.2 557.8,1150.0 558.8,1149.8 559.8,1149.6 560.8,1149.3 561.8,1149.1 562.8,1148.9 563.8,1148.6 564.8,1148.4 565.8,1148.2 566.8,1147.9 567.8,1147.7 568.8,1147.5 569.8,1147.2 570.8,1147.0 571.8,1146.8 572.8,1146.5 573.8,1146.3 574.8,1146.1 575.8,1145.9 576.8,1145.6 577.8,1145.4 578.8,1145.2 579.8,1145.0 580.8,1144.8 581.8,1144.5 582.8,1144.3 583.8,1144.1 584.8,1143.8 585.8,1143.6 586.8,1143.4 587.8,1143.1 588.8,1142.9 589.8,1142.7 590.8,1142.6 591.8,1142.4 592.8,1142.2 593.8,1142.1 594.8,1142.0 595.8,1141.9 596.8,1141.8 597.8,1141.7 598.8,1141.6 599.8,1141.5 600.8,1141.4 601.8,1141.3 602.8,1141.2 603.8,1141.2 604.8,1141.1 605.8,1141.0 606.8,1140.9 607.8,1140.9 608.8,1140.8 609.8,1140.7 610.8,1140.7 611.8,1140.6 612.8,1140.6 613.8,1140.5 614.8,1140.5 615.8,1140.5 616.8,1140.4 617.8,1140.4 618.8,1140.4 619.8,1140.4 620.8,1140.4 621.8,1140.3 622.8,1140.3 623.8,1140.3 624.8,1140.3 625.8,1140.3 626.8,1140.3 627.8,1140.3 628.8,1140.3 629.8,1140.3 630.8,1140.3 631.8,1140.3 632.8,1140.2 633.8,1140.2 634.8,1140.2 635.8,1140.2 636.8,1140.2 637.8,1140.2 638.8,1140.2 639.8,1140.2 640.8,1140.2 641.8,1140.2 642.8,1140.2 643.8,1140.2 644.8,1140.2 645.8,1140.2 646.8,1140.2 647.8,1140.2 648.8,1140.2 649.8,1140.2 650.8,1140.2 651.8,1140.2 652.8,1140.2 653.8,1140.2 654.8,1140.2 655.8,1140.2 656.8,1140.2 657.8,1140.2 658.8,1140.2 659.8,1140.2 660.8,1140.2 661.8,1140.2 662.8,1140.2 663.8,1140.2 664.8,1140.2 665.8,1140.2 666.8,1140.2 667.8,1140.2 668.8,1140.2 669.8,1140.2 670.8,1140.1 671.8,1140.1 672.8,1140.1 673.8,1140.1 674.8,1140.1 675.8,1140.1 676.8,1140.1 677.8,1140.1 678.8,1140.1 679.8,1140.1 680.8,1140.1 681.8,1140.1 682.8,1140.0 683.8,1140.0 684.8,1140.0 685.8,1140.0 686.8,1140.0 687.8,1140.0 688.8,1140.0 689.8,1140.0 690.8,1139.9 691.8,1139.9 692.8,1139.9 693.8,1139.9 694.8,1139.9 695.8,1139.9 696.8,1139.9 697.8,1139.8 698.8,1139.8 699.8,1139.8 700.8,1139.8 701.8,1139.8 702.8,1139.7 703.8,1139.7 704.8,1139.7 705.8,1139.7 706.8,1139.6 707.8,1139.6 708.8,1139.6 709.8,1139.6 710.8,1139.5 711.8,1139.5 712.8,1139.5 713.8,1139.4 714.8,1139.4 715.8,1139.4 716.8,1139.3 717.8,1139.3 718.8,1139.3 719.8,1139.2 720.8,1139.2 721.8,1139.2 722.8,1139.1 723.8,1139.1 724.8,1139.0 725.8,1139.0 726.8,1138.9 727.8,1138.9 728.8,1138.8 729.8,1138.8 730.8,1138.7 731.8,1138.6 732.8,1138.5 733.8,1138.4 734.8,1138.3 735.8,1138.1 736.8,1137.9 737.8,1137.8 738.8,1137.6 739.8,1137.4 740.8,1137.2 741.8,1137.0 742.8,1136.8 743.8,1136.7 744.8,1136.5 745.8,1136.3 746.8,1136.1 747.8,1136.0 748.8,1135.8 749.8,1135.6 750.8,1135.4 751.8,1135.2 752.8,1135.0 753.8,1134.8 754.8,1134.6 755.8,1134.4 756.8,1134.2 757.8,1134.0 758.8,1133.8 759.8,1133.6 760.8,1133.3 761.8,1133.1 762.8,1132.9 763.8,1132.7 764.8,1132.5 765.8,1132.3 766.1,1132.3" fill="none" stroke="#f7df7c" stroke-width="2.8"/>
<polygon points="44.8,1168.8 45.8,1168.8 46.8,1168.8 47.8,1168.8 48.8,1168.8 49.8,1168.8 50.8,1168.8 51.8,1168.8 52.8,1168.8 53.8,1168.8 54.8,1168.8 55.8,1168.8 56.8,1168.8 57.8,1168.8 58.8,1168.8 59.8,1168.8 60.8,1168.8 61.8,1168.8 62.8,1168.8 63.8,1168.8 64.8,1168.8 65.8,1168.8 66.8,1168.8 67.8,1168.8 68.8,1168.8 69.8,1168.8 70.8,1168.8 71.8,1168.8 72.8,1168.8 73.8,1168.8 74.8,1168.8 75.8,1168.8 76.8,1168.8 77.8,1168.8 78.8,1168.8 79.8,1168.8 80.8,1168.8 81.8,1168.8 82.8,1168.8 83.8,1168.8 84.8,1168.8 85.8,1168.8 86.8,1168.8 87.8,1168.8 88.8,1168.8 89.8,1168.8 90.8,1168.8 91.8,1168.8 92.8,1168.8 93.8,1168.8 94.8,1168.8 95.8,1168.8 96.8,1168.8 97.8,1168.8 98.8,1168.8 99.8,1168.8 100.8,1168.8 101.8,1168.8 102.8,1168.8 103.8,1168.8 104.8,1168.8 105.8,1168.8 106.8,1168.8 107.8,1168.8 108.8,1168.8 109.8,1168.7 110.8,1168.7 111.8,1168.7 112.8,1168.7 113.8,1168.7 114.8,1168.7 115.8,1168.7 116.8,1168.7 117.8,1168.7 118.8,1168.7 119.8,1168.7 120.8,1168.7 121.8,1168.7 122.8,1168.7 123.8,1168.7 124.8,1168.7 125.8,1168.7 126.8,1168.7 127.8,1168.7 128.8,1168.7 129.8,1168.7 130.8,1168.7 131.8,1168.7 132.8,1168.7 133.8,1168.7 134.8,1168.7 135.8,1168.7 136.8,1168.7 137.8,1168.7 138.8,1168.7 139.8,1168.7 140.8,1168.7 141.8,1168.7 142.8,1168.7 143.8,1168.7 144.8,1168.7 145.8,1168.7 146.8,1168.7 147.8,1168.7 148.8,1168.7 149.8,1168.7 150.8,1168.7 151.8,1168.7 152.8,1168.7 153.8,1168.7 154.8,1168.7 155.8,1168.7 156.8,1168.7 157.8,1168.7 158.8,1168.7 159.8,1168.7 160.8,1168.7 161.8,1168.7 162.8,1168.7 163.8,1168.7 164.8,1168.7 165.8,1168.7 166.8,1168.7 167.8,1168.7 168.8,1168.7 169.8,1168.7 170.8,1168.7 171.8,1168.7 172.8,1168.7 173.8,1168.7 174.8,1168.7 175.8,1168.6 176.8,1168.6 177.8,1168.6 178.8,1168.6 179.8,1168.6 180.8,1168.6 181.8,1168.6 182.8,1168.6 183.8,1168.6 184.8,1168.6 185.8,1168.6 186.8,1168.6 187.8,1168.6 188.8,1168.6 189.8,1168.6 190.8,1168.6 191.8,1168.6 192.8,1168.6 193.8,1168.6 194.8,1168.6 195.8,1168.6 196.8,1168.6 197.8,1168.6 198.8,1168.6 199.8,1168.6 200.8,1168.6 201.8,1168.6 202.8,1168.6 203.8,1168.6 204.8,1168.6 205.8,1168.6 206.8,1168.6 207.8,1168.6 208.8,1168.6 209.8,1168.6 210.8,1168.6 211.8,1168.6 212.8,1168.6 213.8,1168.6 214.8,1168.6 215.8,1168.6 216.8,1168.5 217.8,1168.5 218.8,1168.5 219.8,1168.5 220.8,1168.5 221.8,1168.5 222.8,1168.5 223.8,1168.5 224.8,1168.5 225.8,1168.5 226.8,1168.5 227.8,1168.5 228.8,1168.5 229.8,1168.5 230.8,1168.5 231.8,1168.5 232.8,1168.5 233.8,1168.5 234.8,1168.5 235.8,1168.5 236.8,1168.5 237.8,1168.5 238.8,1168.5 239.8,1168.5 240.8,1168.5 241.8,1168.5 242.8,1168.5 243.8,1168.5 244.8,1168.5 245.8,1168.4 246.8,1168.4 247.8,1168.4 248.8,1168.4 249.8,1168.4 250.8,1168.4 251.8,1168.4 252.8,1168.4 253.8,1168.4 254.8,1168.4 255.8,1168.4 256.8,1168.4 257.8,1168.4 258.8,1168.4 259.8,1168.4 260.8,1168.4 261.8,1168.4 262.8,1168.4 263.8,1168.3 264.8,1168.3 265.8,1168.3 266.8,1168.3 267.8,1168.3 268.8,1168.3 269.8,1168.3 270.8,1168.3 271.8,1168.3 272.8,1168.3 273.8,1168.3 274.8,1168.3 275.8,1168.3 276.8,1168.3 277.8,1168.2 278.8,1168.2 279.8,1168.2 280.8,1168.2 281.8,1168.2 282.8,1168.2 283.8,1168.2 284.8,1168.2 285.8,1168.2 286.8,1168.2 287.8,1168.2 288.8,1168.1 289.8,1168.1 290.8,1168.1 291.8,1168.1 292.8,1168.1 293.8,1168.1 294.8,1168.1 295.8,1168.1 296.8,1168.1 297.8,1168.1 298.8,1168.0 299.8,1168.0 300.8,1168.0 301.8,1168.0 302.8,1168.0 303.8,1168.0 304.8,1168.0 305.8,1168.0 306.8,1168.0 307.8,1167.9 308.8,1167.9 309.8,1167.9 310.8,1167.9 311.8,1167.9 312.8,1167.9 313.8,1167.9 314.8,1167.9 315.8,1167.8 316.8,1167.8 317.8,1167.8 318.8,1167.8 319.8,1167.8 320.8,1167.8 321.8,1167.8 322.8,1167.7 323.8,1167.7 324.8,1167.7 325.8,1167.7 326.8,1167.7 327.8,1167.7 328.8,1167.7 329.8,1167.6 330.8,1167.6 331.8,1167.6 332.8,1167.6 333.8,1167.6 334.8,1167.6 335.8,1167.5 336.8,1167.5 337.8,1167.5 338.8,1167.5 339.8,1167.5 340.8,1167.4 341.8,1167.4 342.8,1167.4 343.8,1167.4 344.8,1167.3 345.8,1167.3 346.8,1167.3 347.8,1167.2 348.8,1167.2 349.8,1167.2 350.8,1167.2 351.8,1167.1 352.8,1167.1 353.8,1167.1 354.8,1167.0 355.8,1167.0 356.8,1167.0 357.8,1166.9 358.8,1166.9 359.8,1166.9 360.8,1166.8 361.8,1166.8 362.8,1166.7 363.8,1166.7 364.8,1166.7 365.8,1166.6 366.8,1166.6 367.8,1166.5 368.8,1166.5 369.8,1166.5 370.8,1166.4 371.8,1166.4 372.8,1166.3 373.8,1166.3 374.8,1166.2 375.8,1166.2 376.8,1166.2 377.8,1166.1 378.8,1166.1 379.8,1166.0 380.8,1166.0 381.8,1165.9 382.8,1165.9 383.8,1165.8 384.8,1165.8 385.8,1165.7 386.8,1165.7 387.8,1165.6 388.8,1165.6 389.8,1165.5 390.8,1165.5 391.8,1165.4 392.8,1165.4 393.8,1165.3 394.8,1165.3 395.8,1165.2 396.8,1165.2 397.8,1165.1 398.8,1165.0 399.8,1165.0 400.8,1164.9 401.8,1164.9 402.8,1164.8 403.8,1164.8 404.8,1164.7 405.8,1164.6 406.8,1164.6 407.8,1164.5 408.8,1164.5 409.8,1164.4 410.8,1164.3 411.8,1164.3 412.8,1164.2 413.8,1164.2 414.8,1164.1 415.8,1164.0 416.8,1164.0 417.8,1163.9 418.8,1163.9 419.8,1163.8 420.8,1163.7 421.8,1163.7 422.8,1163.6 423.8,1163.5 424.8,1163.5 425.8,1163.4 426.8,1163.3 427.8,1163.3 428.8,1163.2 429.8,1163.1 430.8,1163.0 431.8,1163.0 432.8,1162.9 433.8,1162.8 434.8,1162.7 435.8,1162.6 436.8,1162.6 437.8,1162.5 438.8,1162.4 439.8,1162.3 440.8,1162.2 441.8,1162.1 442.8,1162.1 443.8,1162.0 444.8,1161.9 445.8,1161.8 446.8,1161.7 447.8,1161.6 448.8,1161.5 449.8,1161.4 450.8,1161.3 451.8,1161.2 452.8,1161.1 453.8,1161.0 454.8,1160.9 455.8,1160.8 456.8,1160.7 457.8,1160.6 458.8,1160.4 459.8,1160.3 460.8,1160.2 461.8,1160.1 462.8,1160.0 463.8,1159.8 464.8,1159.7 465.8,1159.6 466.8,1159.4 467.8,1159.3 468.8,1159.2 469.8,1159.0 470.8,1158.9 471.8,1158.8 472.8,1158.6 473.8,1158.5 474.8,1158.3 475.8,1158.1 476.8,1158.0 477.8,1157.8 478.8,1157.6 479.8,1157.5 480.8,1157.3 481.8,1157.1 482.8,1156.9 483.8,1156.7 484.8,1156.5 485.8,1156.4 486.8,1156.1 487.8,1155.9 488.8,1155.7 489.8,1155.5 490.8,1155.3 491.8,1155.1 492.8,1154.8 493.8,1154.6 494.8,1154.3 495.8,1154.1 496.8,1153.8 497.8,1153.5 498.8,1153.2 499.8,1153.0 500.8,1152.7 501.8,1152.3 502.8,1152.0 503.8,1151.7 504.8,1151.3 505.8,1151.0 506.8,1150.6 507.8,1150.2 508.8,1149.8 509.8,1149.4 510.8,1149.0 511.8,1148.6 512.8,1148.1 513.8,1147.6 514.8,1147.1 515.8,1146.6 516.8,1146.0 517.8,1145.5 518.8,1144.9 519.8,1144.3 520.8,1143.6 521.8,1142.9 522.8,1142.2 523.8,1141.4 524.8,1140.6 525.8,1139.8 526.8,1138.9 527.8,1138.0 528.8,1137.0 529.8,1136.0 530.8,1134.9 531.8,1133.8 532.8,1132.6 533.8,1131.3 534.8,1129.9 535.8,1128.5 536.8,1127.0 537.8,1125.5 538.8,1123.8 539.8,1122.0 540.8,1120.2 541.8,1118.2 542.8,1116.2 543.8,1114.0 544.8,1111.8 545.8,1109.4 546.8,1106.9 547.8,1104.2 548.8,1101.5 549.8,1098.6 550.8,1095.6 551.8,1092.5 552.8,1089.2 553.8,1085.8 554.8,1082.2 555.8,1078.5 556.8,1074.7 557.8,1070.8 558.8,1066.8 559.8,1062.7 560.8,1058.6 561.8,1054.4 562.8,1050.2 563.8,1046.0 564.8,1041.9 565.8,1037.8 566.8,1033.9 567.8,1030.2 568.8,1026.7 569.8,1023.4 570.8,1020.5 571.8,1017.9 572.8,1015.8 573.8,1014.1 574.8,1012.8 575.8,1012.1 576.8,1011.9 577.8,1012.2 578.8,1012.9 579.8,1014.1 580.8,1015.7 581.8,1017.7 582.8,1020.0 583.8,1022.7 584.8,1025.6 585.8,1028.8 586.8,1032.2 587.8,1035.7 588.8,1039.4 589.8,1043.1 590.8,1046.9 591.8,1050.7 592.8,1054.5 593.8,1058.2 594.8,1062.0 595.8,1065.7 596.8,1069.3 597.8,1072.8 598.8,1076.2 599.8,1079.5 600.8,1082.7 601.8,1085.8 602.8,1088.7 603.8,1091.5 604.8,1094.2 605.8,1096.8 606.8,1099.3 607.8,1101.6 608.8,1103.9 609.8,1106.0 610.8,1108.0 611.8,1109.9 612.8,1111.7 613.8,1113.4 614.8,1115.0 615.8,1116.5 616.8,1117.9 617.8,1119.3 618.8,1120.6 619.8,1121.8 620.8,1122.9 621.8,1123.9 622.8,1124.9 623.8,1125.9 624.8,1126.8 625.8,1127.6 626.8,1128.4 627.8,1129.1 628.8,1129.8 629.8,1130.4 630.8,1131.0 631.8,1131.6 632.8,1132.1 633.8,1132.6 634.8,1133.1 635.8,1133.6 636.8,1134.0 637.8,1134.4 638.8,1134.8 639.8,1135.2 640.8,1135.5 641.8,1135.8 642.8,1136.2 643.8,1136.5 644.8,1136.7 645.8,1137.0 646.8,1137.3 647.8,1137.5 648.8,1137.8 649.8,1138.0 650.8,1138.2 651.8,1138.4 652.8,1138.6 653.8,1138.8 654.8,1139.0 655.8,1139.2 656.8,1139.4 657.8,1139.6 658.8,1139.7 659.8,1139.9 660.8,1140.0 661.8,1140.2 662.8,1140.3 663.8,1140.5 664.8,1140.6 665.8,1140.7 666.8,1140.8 667.8,1141.0 668.8,1141.1 669.8,1141.2 670.8,1141.3 671.8,1141.4 672.8,1141.5 673.8,1141.6 674.8,1141.7 675.8,1141.8 676.8,1141.9 677.8,1141.9 678.8,1142.0 679.8,1142.1 680.8,1142.2 681.8,1142.2 682.8,1142.3 683.8,1142.4 684.8,1142.4 685.8,1142.5 686.8,1142.5 687.8,1142.6 688.8,1142.6 689.8,1142.7 690.8,1142.7 691.8,1142.8 692.8,1142.8 693.8,1142.9 694.8,1142.9 695.8,1143.0 696.8,1143.0 697.8,1143.0 698.8,1143.1 699.8,1143.1 700.8,1143.1 701.8,1143.1 702.8,1143.2 703.8,1143.2 704.8,1143.2 705.8,1143.2 706.8,1143.2 707.8,1143.3 708.8,1143.3 709.8,1143.3 710.8,1143.3 711.8,1143.3 712.8,1143.3 713.8,1143.3 714.8,1143.3 715.8,1143.3 716.8,1143.3 717.8,1143.3 718.8,1143.3 719.8,1143.3 720.8,1143.3 721.8,1143.2 722.8,1143.2 723.8,1143.2 724.8,1143.2 725.8,1143.2 726.8,1143.1 727.8,1143.1 728.8,1143.1 729.8,1143.1 730.8,1143.0 731.8,1142.9 732.8,1142.9 733.8,1142.8 734.8,1142.6 735.8,1142.5 736.8,1142.4 737.8,1142.2 738.8,1142.1 739.8,1141.9 740.8,1141.7 741.8,1141.5 742.8,1141.4 743.8,1141.2 744.8,1141.0 745.8,1140.9 746.8,1140.7 747.8,1140.6 748.8,1140.4 749.8,1140.2 750.8,1140.0 751.8,1139.8 752.8,1139.7 753.8,1139.5 754.8,1139.3 755.8,1139.1 756.8,1138.9 757.8,1138.7 758.8,1138.5 759.8,1138.3 760.8,1138.1 761.8,1137.9 762.8,1137.7 763.8,1137.5 764.8,1137.3 765.8,1137.1 766.1,1137.1 766.1,1138.3 765.8,1138.3 764.8,1138.6 763.8,1138.8 762.8,1139.0 761.8,1139.2 760.8,1139.4 759.8,1139.6 758.8,1139.8 757.8,1140.0 756.8,1140.2 755.8,1140.5 754.8,1140.7 753.8,1140.9 752.8,1141.1 751.8,1141.3 750.8,1141.5 749.8,1141.7 748.8,1141.9 747.8,1142.1 746.8,1142.3 745.8,1142.5 744.8,1142.6 743.8,1142.8 742.8,1143.0 741.8,1143.2 740.8,1143.4 739.8,1143.6 738.8,1143.8 737.8,1144.0 736.8,1144.1 735.8,1144.3 734.8,1144.5 733.8,1144.6 732.8,1144.7 731.8,1144.9 730.8,1144.9 729.8,1145.0 728.8,1145.1 727.8,1145.1 726.8,1145.2 725.8,1145.2 724.8,1145.3 723.8,1145.3 722.8,1145.4 721.8,1145.4 720.8,1145.5 719.8,1145.5 718.8,1145.6 717.8,1145.6 716.8,1145.7 715.8,1145.7 714.8,1145.7 713.8,1145.8 712.8,1145.8 711.8,1145.9 710.8,1145.9 709.8,1145.9 708.8,1146.0 707.8,1146.0 706.8,1146.0 705.8,1146.1 704.8,1146.1 703.8,1146.1 702.8,1146.1 701.8,1146.2 700.8,1146.2 699.8,1146.2 698.8,1146.2 697.8,1146.3 696.8,1146.3 695.8,1146.3 694.8,1146.3 693.8,1146.4 692.8,1146.4 691.8,1146.4 690.8,1146.4 689.8,1146.4 688.8,1146.5 687.8,1146.5 686.8,1146.5 685.8,1146.5 684.8,1146.5 683.8,1146.5 682.8,1146.6 681.8,1146.6 680.8,1146.6 679.8,1146.6 678.8,1146.6 677.8,1146.6 676.8,1146.6 675.8,1146.7 674.8,1146.7 673.8,1146.7 672.8,1146.7 671.8,1146.7 670.8,1146.7 669.8,1146.7 668.8,1146.7 667.8,1146.7 666.8,1146.8 665.8,1146.8 664.8,1146.8 663.8,1146.8 662.8,1146.8 661.8,1146.8 660.8,1146.8 659.8,1146.8 658.8,1146.8 657.8,1146.8 656.8,1146.8 655.8,1146.8 654.8,1146.8 653.8,1146.8 652.8,1146.9 651.8,1146.9 650.8,1146.9 649.8,1146.9 648.8,1146.9 647.8,1146.9 646.8,1146.9 645.8,1146.9 644.8,1146.9 643.8,1146.9 642.8,1146.9 641.8,1146.9 640.8,1146.9 639.8,1146.9 638.8,1146.9 637.8,1147.0 636.8,1147.0 635.8,1147.0 634.8,1147.0 633.8,1147.0 632.8,1147.0 631.8,1147.0 630.8,1147.0 629.8,1147.0 628.8,1147.1 627.8,1147.1 626.8,1147.1 625.8,1147.1 624.8,1147.1 623.8,1147.1 622.8,1147.1 621.8,1147.2 620.8,1147.2 619.8,1147.2 618.8,1147.2 617.8,1147.3 616.8,1147.3 615.8,1147.3 614.8,1147.4 613.8,1147.4 612.8,1147.5 611.8,1147.5 610.8,1147.6 609.8,1147.7 608.8,1147.7 607.8,1147.8 606.8,1147.9 605.8,1148.0 604.8,1148.0 603.8,1148.1 602.8,1148.2 601.8,1148.3 600.8,1148.4 599.8,1148.5 598.8,1148.6 597.8,1148.7 596.8,1148.8 595.8,1148.9 594.8,1149.0 593.8,1149.1 592.8,1149.3 591.8,1149.5 590.8,1149.6 589.8,1149.8 588.8,1150.0 587.8,1150.3 586.8,1150.5 585.8,1150.7 584.8,1151.0 583.8,1151.2 582.8,1151.4 581.8,1151.7 580.8,1151.9 579.8,1152.2 578.8,1152.4 577.8,1152.6 576.8,1152.8 575.8,1153.1 574.8,1153.3 573.8,1153.5 572.8,1153.7 571.8,1154.0 570.8,1154.2 569.8,1154.5 568.8,1154.7 567.8,1154.9 566.8,1155.2 565.8,1155.4 564.8,1155.7 563.8,1155.9 562.8,1156.1 561.8,1156.4 560.8,1156.6 559.8,1156.8 558.8,1157.0 557.8,1157.3 556.8,1157.5 555.8,1157.7 554.8,1157.8 553.8,1158.0 552.8,1158.2 551.8,1158.3 550.8,1158.5 549.8,1158.6 548.8,1158.8 547.8,1158.9 546.8,1159.0 545.8,1159.1 544.8,1159.2 543.8,1159.3 542.8,1159.5 541.8,1159.6 540.8,1159.7 539.8,1159.8 538.8,1159.9 537.8,1160.0 536.8,1160.1 535.8,1160.2 534.8,1160.2 533.8,1160.3 532.8,1160.4 531.8,1160.5 530.8,1160.6 529.8,1160.7 528.8,1160.7 527.8,1160.8 526.8,1160.9 525.8,1161.0 524.8,1161.1 523.8,1161.1 522.8,1161.2 521.8,1161.3 520.8,1161.3 519.8,1161.4 518.8,1161.5 517.8,1161.6 516.8,1161.6 515.8,1161.7 514.8,1161.8 513.8,1161.8 512.8,1161.9 511.8,1161.9 510.8,1162.0 509.8,1162.1 508.8,1162.1 507.8,1162.2 506.8,1162.2 505.8,1162.3 504.8,1162.4 503.8,1162.4 502.8,1162.5 501.8,1162.5 500.8,1162.6 499.8,1162.6 498.8,1162.7 497.8,1162.7 496.8,1162.8 495.8,1162.8 494.8,1162.9 493.8,1162.9 492.8,1163.0 491.8,1163.0 490.8,1163.1 489.8,1163.1 488.8,1163.2 487.8,1163.2 486.8,1163.3 485.8,1163.3 484.8,1163.4 483.8,1163.4 482.8,1163.5 481.8,1163.5 480.8,1163.6 479.8,1163.6 478.8,1163.7 477.8,1163.7 476.8,1163.7 475.8,1163.8 474.8,1163.8 473.8,1163.9 472.8,1163.9 471.8,1164.0 470.8,1164.0 469.8,1164.1 468.8,1164.1 467.8,1164.2 466.8,1164.2 465.8,1164.2 464.8,1164.3 463.8,1164.3 462.8,1164.4 461.8,1164.4 460.8,1164.5 459.8,1164.5 458.8,1164.5 457.8,1164.6 456.8,1164.6 455.8,1164.7 454.8,1164.7 453.8,1164.8 452.8,1164.8 451.8,1164.8 450.8,1164.9 449.8,1164.9 448.8,1165.0 447.8,1165.0 446.8,1165.0 445.8,1165.1 444.8,1165.1 443.8,1165.2 442.8,1165.2 441.8,1165.2 440.8,1165.3 439.8,1165.3 438.8,1165.3 437.8,1165.4 436.8,1165.4 435.8,1165.5 434.8,1165.5 433.8,1165.5 432.8,1165.6 431.8,1165.6 430.8,1165.6 429.8,1165.7 428.8,1165.7 427.8,1165.7 426.8,1165.8 425.8,1165.8 424.8,1165.8 423.8,1165.9 422.8,1165.9 421.8,1165.9 420.8,1166.0 419.8,1166.0 418.8,1166.0 417.8,1166.1 416.8,1166.1 415.8,1166.1 414.8,1166.2 413.8,1166.2 412.8,1166.2 411.8,1166.3 410.8,1166.3 409.8,1166.3 408.8,1166.4 407.8,1166.4 406.8,1166.4 405.8,1166.5 404.8,1166.5 403.8,1166.5 402.8,1166.6 401.8,1166.6 400.8,1166.6 399.8,1166.7 398.8,1166.7 397.8,1166.7 396.8,1166.8 395.8,1166.8 394.8,1166.8 393.8,1166.9 392.8,1166.9 391.8,1166.9 390.8,1167.0 389.8,1167.0 388.8,1167.0 387.8,1167.1 386.8,1167.1 385.8,1167.1 384.8,1167.2 383.8,1167.2 382.8,1167.2 381.8,1167.3 380.8,1167.3 379.8,1167.3 378.8,1167.4 377.8,1167.4 376.8,1167.4 375.8,1167.5 374.8,1167.5 373.8,1167.5 372.8,1167.5 371.8,1167.6 370.8,1167.6 369.8,1167.6 368.8,1167.7 367.8,1167.7 366.8,1167.7 365.8,1167.7 364.8,1167.8 363.8,1167.8 362.8,1167.8 361.8,1167.8 360.8,1167.9 359.8,1167.9 358.8,1167.9 357.8,1167.9 356.8,1168.0 355.8,1168.0 354.8,1168.0 353.8,1168.0 352.8,1168.1 351.8,1168.1 350.8,1168.1 349.8,1168.1 348.8,1168.1 347.8,1168.2 346.8,1168.2 345.8,1168.2 344.8,1168.2 343.8,1168.2 342.8,1168.2 341.8,1168.3 340.8,1168.3 339.8,1168.3 338.8,1168.3 337.8,1168.3 336.8,1168.3 335.8,1168.3 334.8,1168.4 333.8,1168.4 332.8,1168.4 331.8,1168.4 330.8,1168.4 329.8,1168.4 328.8,1168.4 327.8,1168.4 326.8,1168.4 325.8,1168.4 324.8,1168.4 323.8,1168.4 322.8,1168.5 321.8,1168.5 320.8,1168.5 319.8,1168.5 318.8,1168.5 317.8,1168.5 316.8,1168.5 315.8,1168.5 314.8,1168.5 313.8,1168.5 312.8,1168.5 311.8,1168.5 310.8,1168.5 309.8,1168.5 308.8,1168.5 307.8,1168.6 306.8,1168.6 305.8,1168.6 304.8,1168.6 303.8,1168.6 302.8,1168.6 301.8,1168.6 300.8,1168.6 299.8,1168.6 298.8,1168.6 297.8,1168.6 296.8,1168.6 295.8,1168.6 294.8,1168.6 293.8,1168.6 292.8,1168.6 291.8,1168.6 290.8,1168.6 289.8,1168.7 288.8,1168.7 287.8,1168.7 286.8,1168.7 285.8,1168.7 284.8,1168.7 283.8,1168.7 282.8,1168.7 281.8,1168.7 280.8,1168.7 279.8,1168.7 278.8,1168.7 277.8,1168.7 276.8,1168.7 275.8,1168.7 274.8,1168.7 273.8,1168.7 272.8,1168.7 271.8,1168.7 270.8,1168.7 269.8,1168.7 268.8,1168.7 267.8,1168.7 266.8,1168.7 265.8,1168.7 264.8,1168.8 263.8,1168.8 262.8,1168.8 261.8,1168.8 260.8,1168.8 259.8,1168.8 258.8,1168.8 257.8,1168.8 256.8,1168.8 255.8,1168.8 254.8,1168.8 253.8,1168.8 252.8,1168.8 251.8,1168.8 250.8,1168.8 249.8,1168.8 248.8,1168.8 247.8,1168.8 246.8,1168.8 245.8,1168.8 244.8,1168.8 243.8,1168.8 242.8,1168.8 241.8,1168.8 240.8,1168.8 239.8,1168.8 238.8,1168.8 237.8,1168.8 236.8,1168.8 235.8,1168.8 234.8,1168.8 233.8,1168.8 232.8,1168.8 231.8,1168.8 230.8,1168.8 229.8,1168.8 228.8,1168.8 227.8,1168.8 226.8,1168.8 225.8,1168.8 224.8,1168.8 223.8,1168.8 222.8,1168.8 221.8,1168.8 220.8,1168.8 219.8,1168.8 218.8,1168.8 217.8,1168.8 216.8,1168.8 215.8,1168.8 214.8,1168.8 213.8,1168.8 212.8,1168.8 211.8,1168.8 210.8,1168.8 209.8,1168.8 208.8,1168.8 207.8,1168.8 206.8,1168.8 205.8,1168.8 204.8,1168.8 203.8,1168.8 202.8,1168.8 201.8,1168.8 200.8,1168.8 199.8,1168.8 198.8,1168.8 197.8,1168.8 196.8,1168.8 195.8,1168.8 194.8,1168.8 193.8,1168.8 192.8,1168.8 191.8,1168.8 190.8,1168.8 189.8,1168.8 188.8,1168.8 187.8,1168.8 186.8,1168.8 185.8,1168.8 184.8,1168.8 183.8,1168.8 182.8,1168.8 181.8,1168.8 180.8,1168.8 179.8,1168.8 178.8,1168.8 177.8,1168.8 176.8,1168.8 175.8,1168.8 174.8,1168.8 173.8,1168.8 172.8,1168.8 171.8,1168.8 170.8,1168.9 169.8,1168.9 168.8,1168.9 167.8,1168.9 166.8,1168.9 165.8,1168.9 164.8,1168.9 163.8,1168.9 162.8,1168.9 161.8,1168.9 160.8,1168.9 159.8,1168.9 158.8,1168.9 157.8,1168.9 156.8,1168.9 155.8,1168.9 154.8,1168.9 153.8,1168.9 152.8,1168.9 151.8,1168.9 150.8,1168.9 149.8,1168.9 148.8,1168.9 147.8,1168.9 146.8,1168.9 145.8,1168.9 144.8,1168.9 143.8,1168.9 142.8,1168.9 141.8,1168.9 140.8,1168.9 139.8,1168.9 138.8,1168.9 137.8,1168.9 136.8,1168.9 135.8,1168.9 134.8,1168.9 133.8,1168.9 132.8,1168.9 131.8,1168.9 130.8,1168.9 129.8,1168.9 128.8,1168.9 127.8,1168.9 126.8,1168.9 125.8,1168.9 124.8,1168.9 123.8,1168.9 122.8,1168.9 121.8,1168.9 120.8,1168.9 119.8,1168.9 118.8,1168.9 117.8,1168.9 116.8,1168.9 115.8,1168.9 114.8,1168.9 113.8,1168.9 112.8,1168.9 111.8,1168.9 110.8,1168.9 109.8,1168.9 108.8,1168.9 107.8,1168.9 106.8,1168.9 105.8,1168.9 104.8,1168.9 103.8,1168.9 102.8,1168.9 101.8,1168.9 100.8,1168.9 99.8,1168.9 98.8,1168.9 97.8,1168.9 96.8,1168.9 95.8,1168.9 94.8,1168.9 93.8,1168.9 92.8,1168.9 91.8,1168.9 90.8,1168.9 89.8,1168.9 88.8,1168.9 87.8,1168.9 86.8,1168.9 85.8,1168.9 84.8,1168.9 83.8,1168.9 82.8,1168.9 81.8,1168.9 80.8,1168.9 79.8,1168.9 78.8,1168.9 77.8,1168.9 76.8,1168.9 75.8,1168.9 74.8,1168.9 73.8,1168.9 72.8,1168.9 71.8,1168.9 70.8,1168.9 69.8,1168.9 68.8,1168.9 67.8,1168.9 66.8,1168.9 65.8,1168.9 64.8,1168.9 63.8,1168.9 62.8,1168.9 61.8,1168.9 60.8,1168.9 59.8,1168.9 58.8,1168.9 57.8,1168.9 56.8,1168.9 55.8,1168.9 54.8,1168.9 53.8,1168.9 52.8,1168.9 51.8,1168.9 50.8,1168.9 49.8,1168.9 48.8,1168.9 47.8,1168.9 46.8,1168.9 45.8,1168.9 44.8,1168.9" fill="#b0dbf4" fill-opacity="0.7"/>
<polyline points="44.8,1168.8 45.8,1168.8 46.8,1168.8 47.8,1168.8 48.8,1168.8 49.8,1168.8 50.8,1168.8 51.8,1168.8 52.8,1168.8 53.8,1168.8 54.8,1168.8 55.8,1168.8 56.8,1168.8 57.8,1168.8 58.8,1168.8 59.8,1168.8 60.8,1168.8 61.8,1168.8 62.8,1168.8 63.8,1168.8 64.8,1168.8 65.8,1168.8 66.8,1168.8 67.8,1168.8 68.8,1168.8 69.8,1168.8 70.8,1168.8 71.8,1168.8 72.8,1168.8 73.8,1168.8 74.8,1168.8 75.8,1168.8 76.8,1168.8 77.8,1168.8 78.8,1168.8 79.8,1168.8 80.8,1168.8 81.8,1168.8 82.8,1168.8 83.8,1168.8 84.8,1168.8 85.8,1168.8 86.8,1168.8 87.8,1168.8 88.8,1168.8 89.8,1168.8 90.8,1168.8 91.8,1168.8 92.8,1168.8 93.8,1168.8 94.8,1168.8 95.8,1168.8 96.8,1168.8 97.8,1168.8 98.8,1168.8 99.8,1168.8 100.8,1168.8 101.8,1168.8 102.8,1168.8 103.8,1168.8 104.8,1168.8 105.8,1168.8 106.8,1168.8 107.8,1168.8 108.8,1168.8 109.8,1168.7 110.8,1168.7 111.8,1168.7 112.8,1168.7 113.8,1168.7 114.8,1168.7 115.8,1168.7 116.8,1168.7 117.8,1168.7 118.8,1168.7 119.8,1168.7 120.8,1168.7 121.8,1168.7 122.8,1168.7 123.8,1168.7 124.8,1168.7 125.8,1168.7 126.8,1168.7 127.8,1168.7 128.8,1168.7 129.8,1168.7 130.8,1168.7 131.8,1168.7 132.8,1168.7 133.8,1168.7 134.8,1168.7 135.8,1168.7 136.8,1168.7 137.8,1168.7 138.8,1168.7 139.8,1168.7 140.8,1168.7 141.8,1168.7 142.8,1168.7 143.8,1168.7 144.8,1168.7 145.8,1168.7 146.8,1168.7 147.8,1168.7 148.8,1168.7 149.8,1168.7 150.8,1168.7 151.8,1168.7 152.8,1168.7 153.8,1168.7 154.8,1168.7 155.8,1168.7 156.8,1168.7 157.8,1168.7 158.8,1168.7 159.8,1168.7 160.8,1168.7 161.8,1168.7 162.8,1168.7 163.8,1168.7 164.8,1168.7 165.8,1168.7 166.8,1168.7 167.8,1168.7 168.8,1168.7 169.8,1168.7 170.8,1168.7 171.8,1168.7 172.8,1168.7 173.8,1168.7 174.8,1168.7 175.8,1168.6 176.8,1168.6 177.8,1168.6 178.8,1168.6 179.8,1168.6 180.8,1168.6 181.8,1168.6 182.8,1168.6 183.8,1168.6 184.8,1168.6 185.8,1168.6 186.8,1168.6 187.8,1168.6 188.8,1168.6 189.8,1168.6 190.8,1168.6 191.8,1168.6 192.8,1168.6 193.8,1168.6 194.8,1168.6 195.8,1168.6 196.8,1168.6 197.8,1168.6 198.8,1168.6 199.8,1168.6 200.8,1168.6 201.8,1168.6 202.8,1168.6 203.8,1168.6 204.8,1168.6 205.8,1168.6 206.8,1168.6 207.8,1168.6 208.8,1168.6 209.8,1168.6 210.8,1168.6 211.8,1168.6 212.8,1168.6 213.8,1168.6 214.8,1168.6 215.8,1168.6 216.8,1168.5 217.8,1168.5 218.8,1168.5 219.8,1168.5 220.8,1168.5 221.8,1168.5 222.8,1168.5 223.8,1168.5 224.8,1168.5 225.8,1168.5 226.8,1168.5 227.8,1168.5 228.8,1168.5 229.8,1168.5 230.8,1168.5 231.8,1168.5 232.8,1168.5 233.8,1168.5 234.8,1168.5 235.8,1168.5 236.8,1168.5 237.8,1168.5 238.8,1168.5 239.8,1168.5 240.8,1168.5 241.8,1168.5 242.8,1168.5 243.8,1168.5 244.8,1168.5 245.8,1168.4 246.8,1168.4 247.8,1168.4 248.8,1168.4 249.8,1168.4 250.8,1168.4 251.8,1168.4 252.8,1168.4 253.8,1168.4 254.8,1168.4 255.8,1168.4 256.8,1168.4 257.8,1168.4 258.8,1168.4 259.8,1168.4 260.8,1168.4 261.8,1168.4 262.8,1168.4 263.8,1168.3 264.8,1168.3 265.8,1168.3 266.8,1168.3 267.8,1168.3 268.8,1168.3 269.8,1168.3 270.8,1168.3 271.8,1168.3 272.8,1168.3 273.8,1168.3 274.8,1168.3 275.8,1168.3 276.8,1168.3 277.8,1168.2 278.8,1168.2 279.8,1168.2 280.8,1168.2 281.8,1168.2 282.8,1168.2 283.8,1168.2 284.8,1168.2 285.8,1168.2 286.8,1168.2 287.8,1168.2 288.8,1168.1 289.8,1168.1 290.8,1168.1 291.8,1168.1 292.8,1168.1 293.8,1168.1 294.8,1168.1 295.8,1168.1 296.8,1168.1 297.8,1168.1 298.8,1168.0 299.8,1168.0 300.8,1168.0 301.8,1168.0 302.8,1168.0 303.8,1168.0 304.8,1168.0 305.8,1168.0 306.8,1168.0 307.8,1167.9 308.8,1167.9 309.8,1167.9 310.8,1167.9 311.8,1167.9 312.8,1167.9 313.8,1167.9 314.8,1167.9 315.8,1167.8 316.8,1167.8 317.8,1167.8 318.8,1167.8 319.8,1167.8 320.8,1167.8 321.8,1167.8 322.8,1167.7 323.8,1167.7 324.8,1167.7 325.8,1167.7 326.8,1167.7 327.8,1167.7 328.8,1167.7 329.8,1167.6 330.8,1167.6 331.8,1167.6 332.8,1167.6 333.8,1167.6 334.8,1167.6 335.8,1167.5 336.8,1167.5 337.8,1167.5 338.8,1167.5 339.8,1167.5 340.8,1167.4 341.8,1167.4 342.8,1167.4 343.8,1167.4 344.8,1167.3 345.8,1167.3 346.8,1167.3 347.8,1167.2 348.8,1167.2 349.8,1167.2 350.8,1167.2 351.8,1167.1 352.8,1167.1 353.8,1167.1 354.8,1167.0 355.8,1167.0 356.8,1167.0 357.8,1166.9 358.8,1166.9 359.8,1166.9 360.8,1166.8 361.8,1166.8 362.8,1166.7 363.8,1166.7 364.8,1166.7 365.8,1166.6 366.8,1166.6 367.8,1166.5 368.8,1166.5 369.8,1166.5 370.8,1166.4 371.8,1166.4 372.8,1166.3 373.8,1166.3 374.8,1166.2 375.8,1166.2 376.8,1166.2 377.8,1166.1 378.8,1166.1 379.8,1166.0 380.8,1166.0 381.8,1165.9 382.8,1165.9 383.8,1165.8 384.8,1165.8 385.8,1165.7 386.8,1165.7 387.8,1165.6 388.8,1165.6 389.8,1165.5 390.8,1165.5 391.8,1165.4 392.8,1165.4 393.8,1165.3 394.8,1165.3 395.8,1165.2 396.8,1165.2 397.8,1165.1 398.8,1165.0 399.8,1165.0 400.8,1164.9 401.8,1164.9 402.8,1164.8 403.8,1164.8 404.8,1164.7 405.8,1164.6 406.8,1164.6 407.8,1164.5 408.8,1164.5 409.8,1164.4 410.8,1164.3 411.8,1164.3 412.8,1164.2 413.8,1164.2 414.8,1164.1 415.8,1164.0 416.8,1164.0 417.8,1163.9 418.8,1163.9 419.8,1163.8 420.8,1163.7 421.8,1163.7 422.8,1163.6 423.8,1163.5 424.8,1163.5 425.8,1163.4 426.8,1163.3 427.8,1163.3 428.8,1163.2 429.8,1163.1 430.8,1163.0 431.8,1163.0 432.8,1162.9 433.8,1162.8 434.8,1162.7 435.8,1162.6 436.8,1162.6 437.8,1162.5 438.8,1162.4 439.8,1162.3 440.8,1162.2 441.8,1162.1 442.8,1162.1 443.8,1162.0 444.8,1161.9 445.8,1161.8 446.8,1161.7 447.8,1161.6 448.8,1161.5 449.8,1161.4 450.8,1161.3 451.8,1161.2 452.8,1161.1 453.8,1161.0 454.8,1160.9 455.8,1160.8 456.8,1160.7 457.8,1160.6 458.8,1160.4 459.8,1160.3 460.8,1160.2 461.8,1160.1 462.8,1160.0 463.8,1159.8 464.8,1159.7 465.8,1159.6 466.8,1159.4 467.8,1159.3 468.8,1159.2 469.8,1159.0 470.8,1158.9 471.8,1158.8 472.8,1158.6 473.8,1158.5 474.8,1158.3 475.8,1158.1 476.8,1158.0 477.8,1157.8 478.8,1157.6 479.8,1157.5 480.8,1157.3 481.8,1157.1 482.8,1156.9 483.8,1156.7 484.8,1156.5 485.8,1156.4 486.8,1156.1 487.8,1155.9 488.8,1155.7 489.8,1155.5 490.8,1155.3 491.8,1155.1 492.8,1154.8 493.8,1154.6 494.8,1154.3 495.8,1154.1 496.8,1153.8 497.8,1153.5 498.8,1153.2 499.8,1153.0 500.8,1152.7 501.8,1152.3 502.8,1152.0 503.8,1151.7 504.8,1151.3 505.8,1151.0 506.8,1150.6 507.8,1150.2 508.8,1149.8 509.8,1149.4 510.8,1149.0 511.8,1148.6 512.8,1148.1 513.8,1147.6 514.8,1147.1 515.8,1146.6 516.8,1146.0 517.8,1145.5 518.8,1144.9 519.8,1144.3 520.8,1143.6 521.8,1142.9 522.8,1142.2 523.8,1141.4 524.8,1140.6 525.8,1139.8 526.8,1138.9 527.8,1138.0 528.8,1137.0 529.8,1136.0 530.8,1134.9 531.8,1133.8 532.8,1132.6 533.8,1131.3 534.8,1129.9 535.8,1128.5 536.8,1127.0 537.8,1125.5 538.8,1123.8 539.8,1122.0 540.8,1120.2 541.8,1118.2 542.8,1116.2 543.8,1114.0 544.8,1111.8 545.8,1109.4 546.8,1106.9 547.8,1104.2 548.8,1101.5 549.8,1098.6 550.8,1095.6 551.8,1092.5 552.8,1089.2 553.8,1085.8 554.8,1082.2 555.8,1078.5 556.8,1074.7 557.8,1070.8 558.8,1066.8 559.8,1062.7 560.8,1058.6 561.8,1054.4 562.8,1050.2 563.8,1046.0 564.8,1041.9 565.8,1037.8 566.8,1033.9 567.8,1030.2 568.8,1026.7 569.8,1023.4 570.8,1020.5 571.8,1017.9 572.8,1015.8 573.8,1014.1 574.8,1012.8 575.8,1012.1 576.8,1011.9 577.8,1012.2 578.8,1012.9 579.8,1014.1 580.8,1015.7 581.8,1017.7 582.8,1020.0 583.8,1022.7 584.8,1025.6 585.8,1028.8 586.8,1032.2 587.8,1035.7 588.8,1039.4 589.8,1043.1 590.8,1046.9 591.8,1050.7 592.8,1054.5 593.8,1058.2 594.8,1062.0 595.8,1065.7 596.8,1069.3 597.8,1072.8 598.8,1076.2 599.8,1079.5 600.8,1082.7 601.8,1085.8 602.8,1088.7 603.8,1091.5 604.8,1094.2 605.8,1096.8 606.8,1099.3 607.8,1101.6 608.8,1103.9 609.8,1106.0 610.8,1108.0 611.8,1109.9 612.8,1111.7 613.8,1113.4 614.8,1115.0 615.8,1116.5 616.8,1117.9 617.8,1119.3 618.8,1120.6 619.8,1121.8 620.8,1122.9 621.8,1123.9 622.8,1124.9 623.8,1125.9 624.8,1126.8 625.8,1127.6 626.8,1128.4 627.8,1129.1 628.8,1129.8 629.8,1130.4 630.8,1131.0 631.8,1131.6 632.8,1132.1 633.8,1132.6 634.8,1133.1 635.8,1133.6 636.8,1134.0 637.8,1134.4 638.8,1134.8 639.8,1135.2 640.8,1135.5 641.8,1135.8 642.8,1136.2 643.8,1136.5 644.8,1136.7 645.8,1137.0 646.8,1137.3 647.8,1137.5 648.8,1137.8 649.8,1138.0 650.8,1138.2 651.8,1138.4 652.8,1138.6 653.8,1138.8 654.8,1139.0 655.8,1139.2 656.8,1139.4 657.8,1139.6 658.8,1139.7 659.8,1139.9 660.8,1140.0 661.8,1140.2 662.8,1140.3 663.8,1140.5 664.8,1140.6 665.8,1140.7 666.8,1140.8 667.8,1141.0 668.8,1141.1 669.8,1141.2 670.8,1141.3 671.8,1141.4 672.8,1141.5 673.8,1141.6 674.8,1141.7 675.8,1141.8 676.8,1141.9 677.8,1141.9 678.8,1142.0 679.8,1142.1 680.8,1142.2 681.8,1142.2 682.8,1142.3 683.8,1142.4 684.8,1142.4 685.8,1142.5 686.8,1142.5 687.8,1142.6 688.8,1142.6 689.8,1142.7 690.8,1142.7 691.8,1142.8 692.8,1142.8 693.8,1142.9 694.8,1142.9 695.8,1143.0 696.8,1143.0 697.8,1143.0 698.8,1143.1 699.8,1143.1 700.8,1143.1 701.8,1143.1 702.8,1143.2 703.8,1143.2 704.8,1143.2 705.8,1143.2 706.8,1143.2 707.8,1143.3 708.8,1143.3 709.8,1143.3 710.8,1143.3 711.8,1143.3 712.8,1143.3 713.8,1143.3 714.8,1143.3 715.8,1143.3 716.8,1143.3 717.8,1143.3 718.8,1143.3 719.8,1143.3 720.8,1143.3 721.8,1143.2 722.8,1143.2 723.8,1143.2 724.8,1143.2 725.8,1143.2 726.8,1143.1 727.8,1143.1 728.8,1143.1 729.8,1143.1 730.8,1143.0 731.8,1142.9 732.8,1142.9 733.8,1142.8 734.8,1142.6 735.8,1142.5 736.8,1142.4 737.8,1142.2 738.8,1142.1 739.8,1141.9 740.8,1141.7 741.8,1141.5 742.8,1141.4 743.8,1141.2 744.8,1141.0 745.8,1140.9 746.8,1140.7 747.8,1140.6 748.8,1140.4 749.8,1140.2 750.8,1140.0 751.8,1139.8 752.8,1139.7 753.8,1139.5 754.8,1139.3 755.8,1139.1 756.8,1138.9 757.8,1138.7 758.8,1138.5 759.8,1138.3 760.8,1138.1 761.8,1137.9 762.8,1137.7 763.8,1137.5 764.8,1137.3 765.8,1137.1 766.1,1137.1" fill="none" stroke="#a6d5f0" stroke-opacity="0.6" stroke-width="2"/>
<polyline points="44.8,1163.3 45.8,1163.7 46.8,1164.2 47.8,1164.6 48.8,1165.1 49.8,1165.5 50.8,1165.9 51.8,1166.2 52.8,1166.5 53.8,1166.8 54.8,1167.1 55.8,1167.4 56.8,1167.6 57.8,1167.9 58.8,1168.1 59.8,1168.2 60.8,1168.4 61.8,1168.5 62.8,1168.5 63.8,1168.6 64.8,1168.7 65.8,1168.7 66.8,1168.8 67.8,1168.8 68.8,1168.8 69.8,1168.9 70.8,1168.9 71.8,1168.9 72.8,1168.9 73.8,1168.9 74.8,1168.9 75.8,1168.9 76.8,1168.9 77.8,1168.9 78.8,1168.9 79.8,1168.9 80.8,1168.9 81.8,1168.9 82.8,1168.9 83.8,1168.9 84.8,1168.9 85.8,1168.9 86.8,1168.9 87.8,1168.9 88.8,1168.8 89.8,1168.8 90.8,1168.7 91.8,1168.6 92.8,1168.5 93.8,1168.4 94.8,1168.2 95.8,1168.1 96.8,1167.9 97.8,1167.7 98.8,1167.4 99.8,1167.2 100.8,1166.9 101.8,1166.6 102.8,1166.3 103.8,1166.0 104.8,1165.6 105.8,1165.2 106.8,1164.8 107.8,1164.4 108.8,1163.9 109.8,1163.4 110.8,1162.9 111.8,1162.3 112.8,1161.7 113.8,1161.1 114.8,1160.4 115.8,1159.7 116.8,1159.0 117.8,1158.2 118.8,1157.4 119.8,1156.6 120.8,1155.7 121.8,1154.7 122.8,1153.7 123.8,1152.7 124.8,1151.5 125.8,1150.4 126.8,1149.1 127.8,1147.8 128.8,1146.5 129.8,1145.0 130.8,1143.5 131.8,1141.9 132.8,1140.1 133.8,1138.3 134.8,1136.4 135.8,1134.4 136.8,1132.2 137.8,1129.9 138.8,1127.5 139.8,1125.0 140.8,1122.3 141.8,1119.4 142.8,1116.3 143.8,1113.0 144.8,1109.4 145.8,1105.5 146.8,1101.4 147.8,1096.9 148.8,1092.1 149.8,1087.0 150.8,1081.6 151.8,1075.8 152.8,1069.7 153.8,1063.2 154.8,1056.3 155.8,1049.1 156.8,1041.5 157.8,1033.6 158.8,1025.3 159.8,1016.7 160.8,1007.8 161.8,998.6 162.8,989.1 163.8,979.4 164.8,969.6 165.8,959.6 166.8,949.6 167.8,939.5 168.8,929.6 169.8,919.8 170.8,910.2 171.8,901.1 172.8,892.4 173.8,884.3 174.8,876.9 175.8,870.4 176.8,864.8 177.8,860.3 178.8,856.9 179.8,854.8 180.8,853.9 181.8,854.3 182.8,856.1 183.8,859.1 184.8,863.5 185.8,868.9 186.8,875.5 187.8,882.9 188.8,891.0 189.8,899.8 190.8,909.1 191.8,918.8 192.8,928.7 193.8,938.7 194.8,948.7 195.8,958.7 196.8,968.6 197.8,978.4 198.8,987.9 199.8,997.1 200.8,1006.1 201.8,1014.7 202.8,1023.1 203.8,1031.0 204.8,1038.7 205.8,1045.9 206.8,1052.9 207.8,1059.4 208.8,1065.7 209.8,1071.6 210.8,1077.2 211.8,1082.4 212.8,1087.4 213.8,1092.0 214.8,1096.4 215.8,1100.5 216.8,1104.3 217.8,1107.9 218.8,1111.2 219.8,1114.4 220.8,1117.3 221.8,1120.0 222.8,1122.6 223.8,1125.0 224.8,1127.2 225.8,1129.2 226.8,1131.2 227.8,1133.0 228.8,1134.7 229.8,1136.3 230.8,1137.7 231.8,1139.1 232.8,1140.4 233.8,1141.6 234.8,1142.8 235.8,1143.8 236.8,1144.8 237.8,1145.8 238.8,1146.7 239.8,1147.5 240.8,1148.3 241.8,1149.0 242.8,1149.8 243.8,1150.4 244.8,1151.1 245.8,1151.7 246.8,1152.2 247.8,1152.8 248.8,1153.3 249.8,1153.8 250.8,1154.3 251.8,1154.7 252.8,1155.1 253.8,1155.6 254.8,1155.9 255.8,1156.3 256.8,1156.7 257.8,1157.0 258.8,1157.3 259.8,1157.6 260.8,1157.9 261.8,1158.2 262.8,1158.5 263.8,1158.8 264.8,1159.0 265.8,1159.2 266.8,1159.5 267.8,1159.7 268.8,1159.9 269.8,1160.1 270.8,1160.3 271.8,1160.5 272.8,1160.7 273.8,1160.8 274.8,1161.0 275.8,1161.1 276.8,1161.2 277.8,1161.4 278.8,1161.5 279.8,1161.6 280.8,1161.7 281.8,1161.8 282.8,1161.9 283.8,1162.0 284.8,1162.1 285.8,1162.2 286.8,1162.2 287.8,1162.3 288.8,1162.4 289.8,1162.4 290.8,1162.5 291.8,1162.5 292.8,1162.6 293.8,1162.6 294.8,1162.7 295.8,1162.7 296.8,1162.8 297.8,1162.8 298.8,1162.9 299.8,1162.9 300.8,1162.9 301.8,1163.0 302.8,1163.0 303.8,1163.1 304.8,1163.1 305.8,1163.1 306.8,1163.1 307.8,1163.2 308.8,1163.2 309.8,1163.2 310.8,1163.2 311.8,1163.2 312.8,1163.3 313.8,1163.3 314.8,1163.3 315.8,1163.3 316.8,1163.3 317.8,1163.3 318.8,1163.3 319.8,1163.3 320.8,1163.3 321.8,1163.4 322.8,1163.4 323.8,1163.4 324.8,1163.4 325.8,1163.4 326.8,1163.4 327.8,1163.4 328.8,1163.4 329.8,1163.4 330.8,1163.4 331.8,1163.4 332.8,1163.3 333.8,1163.3 334.8,1163.3 335.8,1163.3 336.8,1163.3 337.8,1163.3 338.8,1163.3 339.8,1163.3 340.8,1163.3 341.8,1163.2 342.8,1163.2 343.8,1163.2 344.8,1163.2 345.8,1163.2 346.8,1163.1 347.8,1163.1 348.8,1163.1 349.8,1163.0 350.8,1163.0 351.8,1163.0 352.8,1163.0 353.8,1162.9 354.8,1162.9 355.8,1162.9 356.8,1162.8 357.8,1162.8 358.8,1162.8 359.8,1162.7 360.8,1162.7 361.8,1162.6 362.8,1162.6 363.8,1162.6 364.8,1162.5 365.8,1162.5 366.8,1162.4 367.8,1162.4 368.8,1162.4 369.8,1162.3 370.8,1162.3 371.8,1162.2 372.8,1162.2 373.8,1162.1 374.8,1162.1 375.8,1162.1 376.8,1162.0 377.8,1162.0 378.8,1161.9 379.8,1161.9 380.8,1161.8 381.8,1161.8 382.8,1161.7 383.8,1161.7 384.8,1161.6 385.8,1161.6 386.8,1161.6 387.8,1161.5 388.8,1161.5 389.8,1161.4 390.8,1161.4 391.8,1161.3 392.8,1161.3 393.8,1161.2 394.8,1161.2 395.8,1161.2 396.8,1161.1 397.8,1161.1 398.8,1161.0 399.8,1161.0 400.8,1161.0 401.8,1160.9 402.8,1160.9 403.8,1160.8 404.8,1160.8 405.8,1160.8 406.8,1160.7 407.8,1160.7 408.8,1160.6 409.8,1160.6 410.8,1160.6 411.8,1160.5 412.8,1160.5 413.8,1160.4 414.8,1160.4 415.8,1160.4 416.8,1160.3 417.8,1160.3 418.8,1160.2 419.8,1160.2 420.8,1160.2 421.8,1160.1 422.8,1160.1 423.8,1160.1 424.8,1160.0 425.8,1160.0 426.8,1159.9 427.8,1159.9 428.8,1159.9 429.8,1159.8 430.8,1159.8 431.8,1159.7 432.8,1159.7 433.8,1159.7 434.8,1159.6 435.8,1159.6 436.8,1159.5 437.8,1159.5 438.8,1159.5 439.8,1159.4 440.8,1159.4 441.8,1159.3 442.8,1159.3 443.8,1159.2 444.8,1159.2 445.8,1159.2 446.8,1159.1 447.8,1159.1 448.8,1159.0 449.8,1159.0 450.8,1158.9 451.8,1158.9 452.8,1158.8 453.8,1158.8 454.8,1158.7 455.8,1158.7 456.8,1158.7 457.8,1158.6 458.8,1158.6 459.8,1158.5 460.8,1158.5 461.8,1158.4 462.8,1158.4 463.8,1158.3 464.8,1158.3 465.8,1158.2 466.8,1158.2 467.8,1158.1 468.8,1158.1 469.8,1158.0 470.8,1157.9 471.8,1157.9 472.8,1157.8 473.8,1157.8 474.8,1157.7 475.8,1157.7 476.8,1157.6 477.8,1157.6 478.8,1157.5 479.8,1157.5 480.8,1157.4 481.8,1157.3 482.8,1157.3 483.8,1157.2 484.8,1157.2 485.8,1157.1 486.8,1157.0 487.8,1157.0 488.8,1156.9 489.8,1156.9 490.8,1156.8 491.8,1156.7 492.8,1156.7 493.8,1156.6 494.8,1156.5 495.8,1156.5 496.8,1156.4 497.8,1156.3 498.8,1156.3 499.8,1156.2 500.8,1156.1 501.8,1156.0 502.8,1156.0 503.8,1155.9 504.8,1155.8 505.8,1155.7 506.8,1155.7 507.8,1155.6 508.8,1155.5 509.8,1155.4 510.8,1155.4 511.8,1155.3 512.8,1155.2 513.8,1155.1 514.8,1155.0 515.8,1154.9 516.8,1154.9 517.8,1154.8 518.8,1154.7 519.8,1154.6 520.8,1154.5 521.8,1154.4 522.8,1154.3 523.8,1154.2 524.8,1154.2 525.8,1154.1 526.8,1154.0 527.8,1153.9 528.8,1153.8 529.8,1153.7 530.8,1153.6 531.8,1153.5 532.8,1153.4 533.8,1153.3 534.8,1153.2 535.8,1153.1 536.8,1153.0 537.8,1152.9 538.8,1152.8 539.8,1152.6 540.8,1152.5 541.8,1152.4 542.8,1152.3 543.8,1152.2 544.8,1152.0 545.8,1151.9 546.8,1151.8 547.8,1151.7 548.8,1151.5 549.8,1151.4 550.8,1151.3 551.8,1151.1 552.8,1150.9 553.8,1150.8 554.8,1150.6 555.8,1150.4 556.8,1150.2 557.8,1150.0 558.8,1149.8 559.8,1149.6 560.8,1149.3 561.8,1149.1 562.8,1148.9 563.8,1148.6 564.8,1148.4 565.8,1148.2 566.8,1147.9 567.8,1147.7 568.8,1147.5 569.8,1147.2 570.8,1147.0 571.8,1146.8 572.8,1146.5 573.8,1146.3 574.8,1146.1 575.8,1145.9 576.8,1145.6 577.8,1145.4 578.8,1145.2 579.8,1145.0 580.8,1144.8 581.8,1144.5 582.8,1144.3 583.8,1144.1 584.8,1143.8 585.8,1143.6 586.8,1143.4 587.8,1143.1 588.8,1142.9 589.8,1142.7 590.8,1142.6 591.8,1142.4 592.8,1142.2 593.8,1142.1 594.8,1142.0 595.8,1141.9 596.8,1141.8 597.8,1141.7 598.8,1141.6 599.8,1141.5 600.8,1141.4 601.8,1141.3 602.8,1141.2 603.8,1141.2 604.8,1141.1 605.8,1141.0 606.8,1140.9 607.8,1140.9 608.8,1140.8 609.8,1140.7 610.8,1140.7 611.8,1140.6 612.8,1140.6 613.8,1140.5 614.8,1140.5 615.8,1140.5 616.8,1140.4 617.8,1140.4 618.8,1140.4 619.8,1140.4 620.8,1140.4 621.8,1140.3 622.8,1140.3 623.8,1140.3 624.8,1140.3 625.8,1140.3 626.8,1140.3 627.8,1140.3 628.8,1140.3 629.8,1140.3 630.8,1140.3 631.8,1140.3 632.8,1140.2 633.8,1140.2 634.8,1140.2 635.8,1140.2 636.8,1140.2 637.8,1140.2 638.8,1140.2 639.8,1140.2 640.8,1140.2 641.8,1140.2 642.8,1140.2 643.8,1140.2 644.8,1140.2 645.8,1140.2 646.8,1140.2 647.8,1140.2 648.8,1140.2 649.8,1140.2 650.8,1140.2 651.8,1140.2 652.8,1140.2 653.8,1140.2 654.8,1140.2 655.8,1140.2 656.8,1140.2 657.8,1140.2 658.8,1140.2 659.8,1140.2 660.8,1140.2 661.8,1140.2 662.8,1140.2 663.8,1140.2 664.8,1140.2 665.8,1140.2 666.8,1140.2 667.8,1140.2 668.8,1140.2 669.8,1140.2 670.8,1140.1 671.8,1140.1 672.8,1140.1 673.8,1140.1 674.8,1140.1 675.8,1140.1 676.8,1140.1 677.8,1140.1 678.8,1140.1 679.8,1140.1 680.8,1140.1 681.8,1140.1 682.8,1140.0 683.8,1140.0 684.8,1140.0 685.8,1140.0 686.8,1140.0 687.8,1140.0 688.8,1140.0 689.8,1140.0 690.8,1139.9 691.8,1139.9 692.8,1139.9 693.8,1139.9 694.8,1139.9 695.8,1139.9 696.8,1139.9 697.8,1139.8 698.8,1139.8 699.8,1139.8 700.8,1139.8 701.8,1139.8 702.8,1139.7 703.8,1139.7 704.8,1139.7 705.8,1139.7 706.8,1139.6 707.8,1139.6 708.8,1139.6 709.8,1139.6 710.8,1139.5 711.8,1139.5 712.8,1139.5 713.8,1139.4 714.8,1139.4 715.8,1139.4 716.8,1139.3 717.8,1139.3 718.8,1139.3 719.8,1139.2 720.8,1139.2 721.8,1139.2 722.8,1139.1 723.8,1139.1 724.8,1139.0 725.8,1139.0 726.8,1138.9 727.8,1138.9 728.8,1138.8 729.8,1138.8 730.8,1138.7 731.8,1138.6 732.8,1138.5 733.8,1138.4 734.8,1138.3 735.8,1138.1 736.8,1137.9 737.8,1137.8 738.8,1137.6 739.8,1137.4 740.8,1137.2 741.8,1137.0 742.8,1136.8 743.8,1136.7 744.8,1136.5 745.8,1136.3 746.8,1136.1 747.8,1136.0 748.8,1135.8 749.8,1135.6 750.8,1135.4 751.8,1135.2 752.8,1135.0 753.8,1134.8 754.8,1134.6 755.8,1134.4 756.8,1134.2 757.8,1134.0 758.8,1133.8 759.8,1133.6 760.8,1133.3 761.8,1133.1 762.8,1132.9 763.8,1132.7 764.8,1132.5 765.8,1132.3 766.1,1132.3" fill="none" stroke="#f7df7c" stroke-opacity="0.2" stroke-width="2.8"/>
<polyline points="44.8,1168.9 45.8,1168.9 46.8,1168.9 47.8,1168.9 48.8,1168.9 49.8,1168.9 50.8,1168.9 51.8,1168.9 52.8,1168.9 53.8,1168.9 54.8,1168.9 55.8,1168.9 56.8,1168.9 57.8,1168.9 58.8,1168.9 59.8,1168.9 60.8,1168.9 61.8,1168.9 62.8,1168.9 63.8,1168.9 64.8,1168.9 65.8,1168.9 66.8,1168.9 67.8,1168.9 68.8,1168.9 69.8,1168.9 70.8,1168.9 71.8,1168.9 72.8,1168.9 73.8,1168.9 74.8,1168.9 75.8,1168.9 76.8,1168.9 77.8,1168.9 78.8,1168.9 79.8,1168.9 80.8,1168.9 81.8,1168.9 82.8,1168.9 83.8,1168.9 84.8,1168.9 85.8,1168.9 86.8,1168.9 87.8,1168.9 88.8,1168.9 89.8,1168.9 90.8,1168.9 91.8,1168.9 92.8,1168.9 93.8,1168.9 94.8,1168.9 95.8,1168.9 96.8,1168.9 97.8,1168.9 98.8,1168.9 99.8,1168.9 100.8,1168.9 101.8,1168.9 102.8,1168.9 103.8,1168.9 104.8,1168.9 105.8,1168.9 106.8,1168.9 107.8,1168.9 108.8,1168.9 109.8,1168.9 110.8,1168.9 111.8,1168.9 112.8,1168.9 113.8,1168.9 114.8,1168.9 115.8,1168.9 116.8,1168.9 117.8,1168.9 118.8,1168.9 119.8,1168.9 120.8,1168.9 121.8,1168.9 122.8,1168.9 123.8,1168.9 124.8,1168.9 125.8,1168.9 126.8,1168.9 127.8,1168.9 128.8,1168.9 129.8,1168.9 130.8,1168.9 131.8,1168.9 132.8,1168.9 133.8,1168.9 134.8,1168.9 135.8,1168.9 136.8,1168.9 137.8,1168.9 138.8,1168.9 139.8,1168.9 140.8,1168.9 141.8,1168.9 142.8,1168.9 143.8,1168.9 144.8,1168.9 145.8,1168.9 146.8,1168.9 147.8,1168.9 148.8,1168.9 149.8,1168.9 150.8,1168.9 151.8,1168.9 152.8,1168.9 153.8,1168.9 154.8,1168.9 155.8,1168.9 156.8,1168.9 157.8,1168.9 158.8,1168.9 159.8,1168.9 160.8,1168.9 161.8,1168.9 162.8,1168.9 163.8,1168.9 164.8,1168.9 165.8,1168.9 166.8,1168.9 167.8,1168.9 168.8,1168.9 169.8,1168.9 170.8,1168.9 171.8,1168.8 172.8,1168.8 173.8,1168.8 174.8,1168.8 175.8,1168.8 176.8,1168.8 177.8,1168.8 178.8,1168.8 179.8,1168.8 180.8,1168.8 181.8,1168.8 182.8,1168.8 183.8,1168.8 184.8,1168.8 185.8,1168.8 186.8,1168.8 187.8,1168.8 188.8,1168.8 189.8,1168.8 190.8,1168.8 191.8,1168.8 192.8,1168.8 193.8,1168.8 194.8,1168.8 195.8,1168.8 196.8,1168.8 197.8,1168.8 198.8,1168.8 199.8,1168.8 200.8,1168.8 201.8,1168.8 202.8,1168.8 203.8,1168.8 204.8,1168.8 205.8,1168.8 206.8,1168.8 207.8,1168.8 208.8,1168.8 209.8,1168.8 210.8,1168.8 211.8,1168.8 212.8,1168.8 213.8,1168.8 214.8,1168.8 215.8,1168.8 216.8,1168.8 217.8,1168.8 218.8,1168.8 219.8,1168.8 220.8,1168.8 221.8,1168.8 222.8,1168.8 223.8,1168.8 224.8,1168.8 225.8,1168.8 226.8,1168.8 227.8,1168.8 228.8,1168.8 229.8,1168.8 230.8,1168.8 231.8,1168.8 232.8,1168.8 233.8,1168.8 234.8,1168.8 235.8,1168.8 236.8,1168.8 237.8,1168.8 238.8,1168.8 239.8,1168.8 240.8,1168.8 241.8,1168.8 242.8,1168.8 243.8,1168.8 244.8,1168.8 245.8,1168.8 246.8,1168.8 247.8,1168.8 248.8,1168.8 249.8,1168.8 250.8,1168.8 251.8,1168.8 252.8,1168.8 253.8,1168.8 254.8,1168.8 255.8,1168.8 256.8,1168.8 257.8,1168.8 258.8,1168.8 259.8,1168.8 260.8,1168.8 261.8,1168.8 262.8,1168.8 263.8,1168.8 264.8,1168.8 265.8,1168.7 266.8,1168.7 267.8,1168.7 268.8,1168.7 269.8,1168.7 270.8,1168.7 271.8,1168.7 272.8,1168.7 273.8,1168.7 274.8,1168.7 275.8,1168.7 276.8,1168.7 277.8,1168.7 278.8,1168.7 279.8,1168.7 280.8,1168.7 281.8,1168.7 282.8,1168.7 283.8,1168.7 284.8,1168.7 285.8,1168.7 286.8,1168.7 287.8,1168.7 288.8,1168.7 289.8,1168.7 290.8,1168.6 291.8,1168.6 292.8,1168.6 293.8,1168.6 294.8,1168.6 295.8,1168.6 296.8,1168.6 297.8,1168.6 298.8,1168.6 299.8,1168.6 300.8,1168.6 301.8,1168.6 302.8,1168.6 303.8,1168.6 304.8,1168.6 305.8,1168.6 306.8,1168.6 307.8,1168.6 308.8,1168.5 309.8,1168.5 310.8,1168.5 311.8,1168.5 312.8,1168.5 313.8,1168.5 314.8,1168.5 315.8,1168.5 316.8,1168.5 317.8,1168.5 318.8,1168.5 319.8,1168.5 320.8,1168.5 321.8,1168.5 322.8,1168.5 323.8,1168.4 324.8,1168.4 325.8,1168.4 326.8,1168.4 327.8,1168.4 328.8,1168.4 329.8,1168.4 330.8,1168.4 331.8,1168.4 332.8,1168.4 333.8,1168.4 334.8,1168.4 335.8,1168.3 336.8,1168.3 337.8,1168.3 338.8,1168.3 339.8,1168.3 340.8,1168.3 341.8,1168.3 342.8,1168.2 343.8,1168.2 344.8,1168.2 345.8,1168.2 346.8,1168.2 347.8,1168.2 348.8,1168.1 349.8,1168.1 350.8,1168.1 351.8,1168.1 352.8,1168.1 353.8,1168.0 354.8,1168.0 355.8,1168.0 356.8,1168.0 357.8,1167.9 358.8,1167.9 359.8,1167.9 360.8,1167.9 361.8,1167.8 362.8,1167.8 363.8,1167.8 364.8,1167.8 365.8,1167.7 366.8,1167.7 367.8,1167.7 368.8,1167.7 369.8,1167.6 370.8,1167.6 371.8,1167.6 372.8,1167.5 373.8,1167.5 374.8,1167.5 375.8,1167.5 376.8,1167.4 377.8,1167.4 378.8,1167.4 379.8,1167.3 380.8,1167.3 381.8,1167.3 382.8,1167.2 383.8,1167.2 384.8,1167.2 385.8,1167.1 386.8,1167.1 387.8,1167.1 388.8,1167.0 389.8,1167.0 390.8,1167.0 391.8,1166.9 392.8,1166.9 393.8,1166.9 394.8,1166.8 395.8,1166.8 396.8,1166.8 397.8,1166.7 398.8,1166.7 399.8,1166.7 400.8,1166.6 401.8,1166.6 402.8,1166.6 403.8,1166.5 404.8,1166.5 405.8,1166.5 406.8,1166.4 407.8,1166.4 408.8,1166.4 409.8,1166.3 410.8,1166.3 411.8,1166.3 412.8,1166.2 413.8,1166.2 414.8,1166.2 415.8,1166.1 416.8,1166.1 417.8,1166.1 418.8,1166.0 419.8,1166.0 420.8,1166.0 421.8,1165.9 422.8,1165.9 423.8,1165.9 424.8,1165.8 425.8,1165.8 426.8,1165.8 427.8,1165.7 428.8,1165.7 429.8,1165.7 430.8,1165.6 431.8,1165.6 432.8,1165.6 433.8,1165.5 434.8,1165.5 435.8,1165.5 436.8,1165.4 437.8,1165.4 438.8,1165.3 439.8,1165.3 440.8,1165.3 441.8,1165.2 442.8,1165.2 443.8,1165.2 444.8,1165.1 445.8,1165.1 446.8,1165.0 447.8,1165.0 448.8,1165.0 449.8,1164.9 450.8,1164.9 451.8,1164.8 452.8,1164.8 453.8,1164.8 454.8,1164.7 455.8,1164.7 456.8,1164.6 457.8,1164.6 458.8,1164.5 459.8,1164.5 460.8,1164.5 461.8,1164.4 462.8,1164.4 463.8,1164.3 464.8,1164.3 465.8,1164.2 466.8,1164.2 467.8,1164.2 468.8,1164.1 469.8,1164.1 470.8,1164.0 471.8,1164.0 472.8,1163.9 473.8,1163.9 474.8,1163.8 475.8,1163.8 476.8,1163.7 477.8,1163.7 478.8,1163.7 479.8,1163.6 480.8,1163.6 481.8,1163.5 482.8,1163.5 483.8,1163.4 484.8,1163.4 485.8,1163.3 486.8,1163.3 487.8,1163.2 488.8,1163.2 489.8,1163.1 490.8,1163.1 491.8,1163.0 492.8,1163.0 493.8,1162.9 494.8,1162.9 495.8,1162.8 496.8,1162.8 497.8,1162.7 498.8,1162.7 499.8,1162.6 500.8,1162.6 501.8,1162.5 502.8,1162.5 503.8,1162.4 504.8,1162.4 505.8,1162.3 506.8,1162.2 507.8,1162.2 508.8,1162.1 509.8,1162.1 510.8,1162.0 511.8,1161.9 512.8,1161.9 513.8,1161.8 514.8,1161.8 515.8,1161.7 516.8,1161.6 517.8,1161.6 518.8,1161.5 519.8,1161.4 520.8,1161.3 521.8,1161.3 522.8,1161.2 523.8,1161.1 524.8,1161.1 525.8,1161.0 526.8,1160.9 527.8,1160.8 528.8,1160.7 529.8,1160.7 530.8,1160.6 531.8,1160.5 532.8,1160.4 533.8,1160.3 534.8,1160.2 535.8,1160.2 536.8,1160.1 537.8,1160.0 538.8,1159.9 539.8,1159.8 540.8,1159.7 541.8,1159.6 542.8,1159.5 543.8,1159.3 544.8,1159.2 545.8,1159.1 546.8,1159.0 547.8,1158.9 548.8,1158.8 549.8,1158.6 550.8,1158.5 551.8,1158.3 552.8,1158.2 553.8,1158.0 554.8,1157.8 555.8,1157.7 556.8,1157.5 557.8,1157.3 558.8,1157.0 559.8,1156.8 560.8,1156.6 561.8,1156.4 562.8,1156.1 563.8,1155.9 564.8,1155.7 565.8,1155.4 566.8,1155.2 567.8,1154.9 568.8,1154.7 569.8,1154.5 570.8,1154.2 571.8,1154.0 572.8,1153.7 573.8,1153.5 574.8,1153.3 575.8,1153.1 576.8,1152.8 577.8,1152.6 578.8,1152.4 579.8,1152.2 580.8,1151.9 581.8,1151.7 582.8,1151.4 583.8,1151.2 584.8,1151.0 585.8,1150.7 586.8,1150.5 587.8,1150.3 588.8,1150.0 589.8,1149.8 590.8,1149.6 591.8,1149.5 592.8,1149.3 593.8,1149.1 594.8,1149.0 595.8,1148.9 596.8,1148.8 597.8,1148.7 598.8,1148.6 599.8,1148.5 600.8,1148.4 601.8,1148.3 602.8,1148.2 603.8,1148.1 604.8,1148.0 605.8,1148.0 606.8,1147.9 607.8,1147.8 608.8,1147.7 609.8,1147.7 610.8,1147.6 611.8,1147.5 612.8,1147.5 613.8,1147.4 614.8,1147.4 615.8,1147.3 616.8,1147.3 617.8,1147.3 618.8,1147.2 619.8,1147.2 620.8,1147.2 621.8,1147.2 622.8,1147.1 623.8,1147.1 624.8,1147.1 625.8,1147.1 626.8,1147.1 627.8,1147.1 628.8,1147.1 629.8,1147.0 630.8,1147.0 631.8,1147.0 632.8,1147.0 633.8,1147.0 634.8,1147.0 635.8,1147.0 636.8,1147.0 637.8,1147.0 638.8,1146.9 639.8,1146.9 640.8,1146.9 641.8,1146.9 642.8,1146.9 643.8,1146.9 644.8,1146.9 645.8,1146.9 646.8,1146.9 647.8,1146.9 648.8,1146.9 649.8,1146.9 650.8,1146.9 651.8,1146.9 652.8,1146.9 653.8,1146.8 654.8,1146.8 655.8,1146.8 656.8,1146.8 657.8,1146.8 658.8,1146.8 659.8,1146.8 660.8,1146.8 661.8,1146.8 662.8,1146.8 663.8,1146.8 664.8,1146.8 665.8,1146.8 666.8,1146.8 667.8,1146.7 668.8,1146.7 669.8,1146.7 670.8,1146.7 671.8,1146.7 672.8,1146.7 673.8,1146.7 674.8,1146.7 675.8,1146.7 676.8,1146.6 677.8,1146.6 678.8,1146.6 679.8,1146.6 680.8,1146.6 681.8,1146.6 682.8,1146.6 683.8,1146.5 684.8,1146.5 685.8,1146.5 686.8,1146.5 687.8,1146.5 688.8,1146.5 689.8,1146.4 690.8,1146.4 691.8,1146.4 692.8,1146.4 693.8,1146.4 694.8,1146.3 695.8,1146.3 696.8,1146.3 697.8,1146.3 698.8,1146.2 699.8,1146.2 700.8,1146.2 701.8,1146.2 702.8,1146.1 703.8,1146.1 704.8,1146.1 705.8,1146.1 706.8,1146.0 707.8,1146.0 708.8,1146.0 709.8,1145.9 710.8,1145.9 711.8,1145.9 712.8,1145.8 713.8,1145.8 714.8,1145.7 715.8,1145.7 716.8,1145.7 717.8,1145.6 718.8,1145.6 719.8,1145.5 720.8,1145.5 721.8,1145.4 722.8,1145.4 723.8,1145.3 724.8,1145.3 725.8,1145.2 726.8,1145.2 727.8,1145.1 728.8,1145.1 729.8,1145.0 730.8,1144.9 731.8,1144.9 732.8,1144.7 733.8,1144.6 734.8,1144.5 735.8,1144.3 736.8,1144.1 737.8,1144.0 738.8,1143.8 739.8,1143.6 740.8,1143.4 741.8,1143.2 742.8,1143.0 743.8,1142.8 744.8,1142.6 745.8,1142.5 746.8,1142.3 747.8,1142.1 748.8,1141.9 749.8,1141.7 750.8,1141.5 751.8,1141.3 752.8,1141.1 753.8,1140.9 754.8,1140.7 755.8,1140.5 756.8,1140.2 757.8,1140.0 758.8,1139.8 759.8,1139.6 760.8,1139.4 761.8,1139.2 762.8,1139.0 763.8,1138.8 764.8,1138.6 765.8,1138.3 766.1,1138.3" fill="none" stroke="#d8493a" stroke-width="2.3"/>
<polyline points="44.8,1163.2 45.8,1163.6 46.8,1164.1 47.8,1164.6 48.8,1165.0 49.8,1165.4 50.8,1165.8 51.8,1166.2 52.8,1166.4 53.8,1166.7 54.8,1167.0 55.8,1167.3 56.8,1167.5 57.8,1167.8 58.8,1168.0 59.8,1168.2 60.8,1168.3 61.8,1168.4 62.8,1168.5 63.8,1168.5 64.8,1168.6 65.8,1168.6 66.8,1168.7 67.8,1168.7 68.8,1168.7 69.8,1168.8 70.8,1168.8 71.8,1168.8 72.8,1168.8 73.8,1168.8 74.8,1168.8 75.8,1168.8 76.8,1168.8 77.8,1168.8 78.8,1168.8 79.8,1168.8 80.8,1168.8 81.8,1168.8 82.8,1168.8 83.8,1168.8 84.8,1168.8 85.8,1168.8 86.8,1168.8 87.8,1168.7 88.8,1168.7 89.8,1168.7 90.8,1168.6 91.8,1168.5 92.8,1168.4 93.8,1168.3 94.8,1168.1 95.8,1167.9 96.8,1167.8 97.8,1167.6 98.8,1167.3 99.8,1167.1 100.8,1166.8 101.8,1166.5 102.8,1166.2 103.8,1165.9 104.8,1165.5 105.8,1165.1 106.8,1164.7 107.8,1164.2 108.8,1163.8 109.8,1163.3 110.8,1162.7 111.8,1162.2 112.8,1161.6 113.8,1161.0 114.8,1160.3 115.8,1159.6 116.8,1158.9 117.8,1158.1 118.8,1157.3 119.8,1156.4 120.8,1155.5 121.8,1154.6 122.8,1153.6 123.8,1152.5 124.8,1151.4 125.8,1150.2 126.8,1149.0 127.8,1147.7 128.8,1146.3 129.8,1144.9 130.8,1143.3 131.8,1141.7 132.8,1140.0 133.8,1138.2 134.8,1136.3 135.8,1134.2 136.8,1132.1 137.8,1129.8 138.8,1127.4 139.8,1124.8 140.8,1122.1 141.8,1119.3 142.8,1116.2 143.8,1112.8 144.8,1109.3 145.8,1105.4 146.8,1101.2 147.8,1096.8 148.8,1092.0 149.8,1086.9 150.8,1081.4 151.8,1075.6 152.8,1069.5 153.8,1063.0 154.8,1056.1 155.8,1048.9 156.8,1041.3 157.8,1033.4 158.8,1025.1 159.8,1016.5 160.8,1007.6 161.8,998.4 162.8,988.9 163.8,979.2 164.8,969.4 165.8,959.4 166.8,949.4 167.8,939.3 168.8,929.4 169.8,919.6 170.8,910.1 171.8,900.9 172.8,892.2 173.8,884.1 174.8,876.7 175.8,870.2 176.8,864.6 177.8,860.1 178.8,856.7 179.8,854.6 180.8,853.7 181.8,854.1 182.8,855.8 183.8,858.9 184.8,863.3 185.8,868.7 186.8,875.2 187.8,882.7 188.8,890.8 189.8,899.6 190.8,908.9 191.8,918.5 192.8,928.4 193.8,938.4 194.8,948.5 195.8,958.5 196.8,968.4 197.8,978.1 198.8,987.6 199.8,996.9 200.8,1005.8 201.8,1014.5 202.8,1022.8 203.8,1030.8 204.8,1038.4 205.8,1045.7 206.8,1052.6 207.8,1059.2 208.8,1065.4 209.8,1071.3 210.8,1076.9 211.8,1082.1 212.8,1087.1 213.8,1091.7 214.8,1096.1 215.8,1100.2 216.8,1104.0 217.8,1107.6 218.8,1111.0 219.8,1114.1 220.8,1117.0 221.8,1119.7 222.8,1122.3 223.8,1124.7 224.8,1126.9 225.8,1129.0 226.8,1130.9 227.8,1132.7 228.8,1134.4 229.8,1136.0 230.8,1137.4 231.8,1138.8 232.8,1140.1 233.8,1141.3 234.8,1142.4 235.8,1143.5 236.8,1144.5 237.8,1145.5 238.8,1146.3 239.8,1147.2 240.8,1148.0 241.8,1148.7 242.8,1149.4 243.8,1150.1 244.8,1150.7 245.8,1151.3 246.8,1151.9 247.8,1152.4 248.8,1153.0 249.8,1153.4 250.8,1153.9 251.8,1154.4 252.8,1154.8 253.8,1155.2 254.8,1155.6 255.8,1155.9 256.8,1156.3 257.8,1156.6 258.8,1156.9 259.8,1157.3 260.8,1157.5 261.8,1157.8 262.8,1158.1 263.8,1158.4 264.8,1158.6 265.8,1158.8 266.8,1159.1 267.8,1159.3 268.8,1159.5 269.8,1159.7 270.8,1159.9 271.8,1160.0 272.8,1160.2 273.8,1160.4 274.8,1160.5 275.8,1160.7 276.8,1160.8 277.8,1160.9 278.8,1161.0 279.8,1161.1 280.8,1161.2 281.8,1161.3 282.8,1161.4 283.8,1161.5 284.8,1161.6 285.8,1161.7 286.8,1161.7 287.8,1161.8 288.8,1161.9 289.8,1161.9 290.8,1162.0 291.8,1162.0 292.8,1162.1 293.8,1162.1 294.8,1162.2 295.8,1162.2 296.8,1162.2 297.8,1162.3 298.8,1162.3 299.8,1162.3 300.8,1162.4 301.8,1162.4 302.8,1162.4 303.8,1162.5 304.8,1162.5 305.8,1162.5 306.8,1162.5 307.8,1162.6 308.8,1162.6 309.8,1162.6 310.8,1162.6 311.8,1162.6 312.8,1162.6 313.8,1162.6 314.8,1162.6 315.8,1162.6 316.8,1162.7 317.8,1162.7 318.8,1162.7 319.8,1162.7 320.8,1162.7 321.8,1162.7 322.8,1162.7 323.8,1162.7 324.8,1162.6 325.8,1162.6 326.8,1162.6 327.8,1162.6 328.8,1162.6 329.8,1162.6 330.8,1162.6 331.8,1162.6 332.8,1162.6 333.8,1162.6 334.8,1162.5 335.8,1162.5 336.8,1162.5 337.8,1162.5 338.8,1162.5 339.8,1162.4 340.8,1162.4 341.8,1162.4 342.8,1162.3 343.8,1162.3 344.8,1162.3 345.8,1162.3 346.8,1162.2 347.8,1162.2 348.8,1162.2 349.8,1162.1 350.8,1162.1 351.8,1162.0 352.8,1162.0 353.8,1161.9 354.8,1161.9 355.8,1161.9 356.8,1161.8 357.8,1161.8 358.8,1161.7 359.8,1161.7 360.8,1161.6 361.8,1161.6 362.8,1161.5 363.8,1161.5 364.8,1161.4 365.8,1161.4 366.8,1161.3 367.8,1161.3 368.8,1161.2 369.8,1161.1 370.8,1161.1 371.8,1161.0 372.8,1161.0 373.8,1160.9 374.8,1160.9 375.8,1160.8 376.8,1160.7 377.8,1160.7 378.8,1160.6 379.8,1160.6 380.8,1160.5 381.8,1160.4 382.8,1160.4 383.8,1160.3 384.8,1160.3 385.8,1160.2 386.8,1160.1 387.8,1160.1 388.8,1160.0 389.8,1159.9 390.8,1159.9 391.8,1159.8 392.8,1159.7 393.8,1159.7 394.8,1159.6 395.8,1159.6 396.8,1159.5 397.8,1159.4 398.8,1159.4 399.8,1159.3 400.8,1159.2 401.8,1159.2 402.8,1159.1 403.8,1159.1 404.8,1159.0 405.8,1158.9 406.8,1158.9 407.8,1158.8 408.8,1158.7 409.8,1158.7 410.8,1158.6 411.8,1158.5 412.8,1158.5 413.8,1158.4 414.8,1158.3 415.8,1158.3 416.8,1158.2 417.8,1158.1 418.8,1158.1 419.8,1158.0 420.8,1157.9 421.8,1157.9 422.8,1157.8 423.8,1157.7 424.8,1157.6 425.8,1157.6 426.8,1157.5 427.8,1157.4 428.8,1157.3 429.8,1157.3 430.8,1157.2 431.8,1157.1 432.8,1157.0 433.8,1156.9 434.8,1156.9 435.8,1156.8 436.8,1156.7 437.8,1156.6 438.8,1156.5 439.8,1156.4 440.8,1156.3 441.8,1156.2 442.8,1156.2 443.8,1156.1 444.8,1156.0 445.8,1155.9 446.8,1155.8 447.8,1155.7 448.8,1155.6 449.8,1155.5 450.8,1155.4 451.8,1155.2 452.8,1155.1 453.8,1155.0 454.8,1154.9 455.8,1154.8 456.8,1154.7 457.8,1154.6 458.8,1154.4 459.8,1154.3 460.8,1154.2 461.8,1154.1 462.8,1153.9 463.8,1153.8 464.8,1153.7 465.8,1153.5 466.8,1153.4 467.8,1153.3 468.8,1153.1 469.8,1153.0 470.8,1152.8 471.8,1152.7 472.8,1152.5 473.8,1152.4 474.8,1152.2 475.8,1152.0 476.8,1151.9 477.8,1151.7 478.8,1151.5 479.8,1151.3 480.8,1151.1 481.8,1150.9 482.8,1150.7 483.8,1150.5 484.8,1150.3 485.8,1150.1 486.8,1149.9 487.8,1149.7 488.8,1149.5 489.8,1149.2 490.8,1149.0 491.8,1148.7 492.8,1148.5 493.8,1148.2 494.8,1148.0 495.8,1147.7 496.8,1147.4 497.8,1147.1 498.8,1146.8 499.8,1146.5 500.8,1146.2 501.8,1145.9 502.8,1145.5 503.8,1145.2 504.8,1144.8 505.8,1144.4 506.8,1144.1 507.8,1143.7 508.8,1143.2 509.8,1142.8 510.8,1142.4 511.8,1141.9 512.8,1141.4 513.8,1140.9 514.8,1140.4 515.8,1139.9 516.8,1139.3 517.8,1138.7 518.8,1138.1 519.8,1137.4 520.8,1136.8 521.8,1136.1 522.8,1135.3 523.8,1134.5 524.8,1133.7 525.8,1132.9 526.8,1132.0 527.8,1131.0 528.8,1130.0 529.8,1129.0 530.8,1127.9 531.8,1126.7 532.8,1125.5 533.8,1124.2 534.8,1122.9 535.8,1121.4 536.8,1119.9 537.8,1118.3 538.8,1116.7 539.8,1114.9 540.8,1113.0 541.8,1111.1 542.8,1109.0 543.8,1106.8 544.8,1104.6 545.8,1102.2 546.8,1099.7 547.8,1097.0 548.8,1094.3 549.8,1091.4 550.8,1088.4 551.8,1085.2 552.8,1081.9 553.8,1078.5 554.8,1074.9 555.8,1071.3 556.8,1067.5 557.8,1063.6 558.8,1059.6 559.8,1055.5 560.8,1051.3 561.8,1047.2 562.8,1043.0 563.8,1038.8 564.8,1034.6 565.8,1030.6 566.8,1026.7 567.8,1022.9 568.8,1019.4 569.8,1016.2 570.8,1013.3 571.8,1010.7 572.8,1008.6 573.8,1006.9 574.8,1005.6 575.8,1004.9 576.8,1004.7 577.8,1005.0 578.8,1005.7 579.8,1006.9 580.8,1008.5 581.8,1010.5 582.8,1012.9 583.8,1015.5 584.8,1018.5 585.8,1021.7 586.8,1025.1 587.8,1028.6 588.8,1032.3 589.8,1036.0 590.8,1039.8 591.8,1043.6 592.8,1047.4 593.8,1051.2 594.8,1054.9 595.8,1058.6 596.8,1062.3 597.8,1065.8 598.8,1069.2 599.8,1072.5 600.8,1075.7 601.8,1078.8 602.8,1081.7 603.8,1084.6 604.8,1087.3 605.8,1089.9 606.8,1092.3 607.8,1094.7 608.8,1096.9 609.8,1099.1 610.8,1101.1 611.8,1103.0 612.8,1104.8 613.8,1106.5 614.8,1108.1 615.8,1109.6 616.8,1111.1 617.8,1112.4 618.8,1113.7 619.8,1114.9 620.8,1116.1 621.8,1117.1 622.8,1118.1 623.8,1119.1 624.8,1119.9 625.8,1120.8 626.8,1121.6 627.8,1122.3 628.8,1123.0 629.8,1123.6 630.8,1124.2 631.8,1124.8 632.8,1125.4 633.8,1125.9 634.8,1126.4 635.8,1126.8 636.8,1127.3 637.8,1127.7 638.8,1128.1 639.8,1128.4 640.8,1128.8 641.8,1129.1 642.8,1129.4 643.8,1129.8 644.8,1130.0 645.8,1130.3 646.8,1130.6 647.8,1130.8 648.8,1131.1 649.8,1131.3 650.8,1131.6 651.8,1131.8 652.8,1132.0 653.8,1132.2 654.8,1132.4 655.8,1132.6 656.8,1132.8 657.8,1132.9 658.8,1133.1 659.8,1133.3 660.8,1133.4 661.8,1133.6 662.8,1133.7 663.8,1133.9 664.8,1134.0 665.8,1134.1 666.8,1134.3 667.8,1134.4 668.8,1134.5 669.8,1134.6 670.8,1134.7 671.8,1134.8 672.8,1134.9 673.8,1135.0 674.8,1135.1 675.8,1135.2 676.8,1135.3 677.8,1135.4 678.8,1135.5 679.8,1135.6 680.8,1135.6 681.8,1135.7 682.8,1135.8 683.8,1135.9 684.8,1135.9 685.8,1136.0 686.8,1136.0 687.8,1136.1 688.8,1136.2 689.8,1136.2 690.8,1136.3 691.8,1136.3 692.8,1136.4 693.8,1136.4 694.8,1136.5 695.8,1136.5 696.8,1136.6 697.8,1136.6 698.8,1136.6 699.8,1136.7 700.8,1136.7 701.8,1136.7 702.8,1136.8 703.8,1136.8 704.8,1136.8 705.8,1136.8 706.8,1136.9 707.8,1136.9 708.8,1136.9 709.8,1136.9 710.8,1136.9 711.8,1136.9 712.8,1136.9 713.8,1137.0 714.8,1137.0 715.8,1137.0 716.8,1137.0 717.8,1137.0 718.8,1137.0 719.8,1137.0 720.8,1137.0 721.8,1137.0 722.8,1136.9 723.8,1136.9 724.8,1136.9 725.8,1136.9 726.8,1136.9 727.8,1136.9 728.8,1136.8 729.8,1136.8 730.8,1136.8 731.8,1136.7 732.8,1136.6 733.8,1136.5 734.8,1136.4 735.8,1136.3 736.8,1136.2 737.8,1136.0 738.8,1135.9 739.8,1135.7 740.8,1135.5 741.8,1135.4 742.8,1135.2 743.8,1135.1 744.8,1134.9 745.8,1134.7 746.8,1134.6 747.8,1134.4 748.8,1134.3 749.8,1134.1 750.8,1133.9 751.8,1133.7 752.8,1133.6 753.8,1133.4 754.8,1133.2 755.8,1133.0 756.8,1132.8 757.8,1132.6 758.8,1132.4 759.8,1132.2 760.8,1132.1 761.8,1131.9 762.8,1131.7 763.8,1131.5 764.8,1131.3 765.8,1131.1 766.1,1131.1" fill="none" stroke="#df4f38" stroke-width="2.3"/>
<polyline points="45.4,1158.6 47.0,1154.4 48.7,1163.6 50.4,1169.0 52.1,1158.6 53.4,1147.7 55.1,1146.8 56.4,1153.6 57.6,1161.9 59.8,1164.0 61.5,1168.7 63.2,1173.7 64.8,1169.5 66.5,1172.0 68.2,1163.6 69.5,1156.9 70.9,1166.1 72.2,1161.1 73.6,1170.3 75.2,1180.4 76.9,1170.3 78.9,1164.0 80.3,1162.8 81.9,1168.7 84.0,1161.9 85.6,1154.4 87.3,1156.1 89.0,1161.1 90.3,1168.7 92.0,1164.0 94.0,1156.1 95.7,1159.4 97.9,1169.5 99.6,1165.3 101.2,1159.4 102.9,1156.1 104.6,1167.0 106.3,1161.9 108.0,1157.8 109.1,1156.1 110.8,1157.8 112.1,1151.9 113.8,1160.3 115.5,1168.7 117.5,1160.3 119.7,1155.2 121.4,1157.8 123.1,1163.6 124.7,1155.2 126.4,1159.4 128.1,1153.6 129.8,1160.3 131.9,1148.5 133.6,1151.0 135.3,1146.8 137.3,1144.3 139.0,1137.6 140.7,1127.6 142.7,1130.1 144.4,1130.9 146.0,1123.4 146.4,1117.2 148.8,1094.0 151.1,1073.1 153.9,1061.5 156.9,1038.2 159.9,1015.0 162.2,984.8 164.6,950.0 167.3,932.9 169.6,909.7 171.4,892.3 172.7,877.2 173.9,865.5 174.6,860.9 176.0,862.1 177.2,866.1 178.6,867.9 179.5,863.2 180.6,859.2 181.6,858.6 182.7,863.2 183.5,874.8 184.4,888.8 185.3,880.6 186.2,873.7 187.0,880.6 188.2,895.7 189.4,905.0 191.1,908.5 192.3,919.0 194.0,938.7 196.4,973.2 198.7,996.4 202.2,1024.3 205.7,1042.9 208.0,1061.5 210.3,1060.3 212.6,1080.1 214.3,1087.0 215.7,1096.3 217.3,1092.8 218.9,1107.9 220.3,1120.7 223.1,1112.6 226.6,1110.2 228.2,1117.2 230.1,1128.8 231.9,1123.0 234.2,1138.1 237.0,1134.6 239.3,1135.8 241.7,1133.5 244.4,1140.4 246.8,1149.7 248.6,1147.4 251.0,1153.2 253.3,1161.3 256.1,1150.9 259.1,1155.5 262.6,1157.8 264.9,1157.3 267.2,1155.5 270.7,1150.9 273.0,1156.7 274.6,1169.5 277.7,1161.3 280.0,1162.5 280.0,1162.8 282.0,1161.1 284.2,1157.7 285.9,1156.9 287.6,1156.0 289.2,1161.1 290.9,1158.6 292.6,1152.7 294.3,1158.6 295.9,1165.3 297.6,1166.9 299.3,1157.7 300.6,1152.2 302.1,1159.4 303.8,1166.1 305.5,1162.8 307.2,1156.9 308.9,1161.1 310.5,1168.6 312.2,1163.6 313.9,1160.2 315.6,1161.1 317.2,1169.0 318.6,1158.6 319.8,1146.8 320.8,1160.2 321.9,1172.8 323.3,1174.5 325.0,1178.7 326.6,1170.3 328.3,1164.4 330.0,1161.1 331.7,1159.4 333.4,1155.2 335.0,1151.8 336.7,1157.7 338.4,1151.8 340.1,1145.1 341.7,1141.4 343.1,1150.2 344.6,1157.7 346.3,1151.8 348.0,1142.6 349.6,1144.3 350.8,1148.5 352.5,1141.8 353.8,1150.2 355.5,1152.7 357.2,1146.8 358.5,1141.4 359.9,1150.2 361.4,1155.2 363.1,1158.6 363.9,1164.4 365.2,1155.2 366.6,1149.3 368.1,1151.8 369.8,1154.4 371.4,1151.0 373.1,1150.2 374.8,1149.3 376.5,1144.8 377.7,1151.8 379.0,1160.2 380.7,1156.9 382.3,1150.2 384.0,1143.5 385.4,1139.8 386.7,1140.9 388.2,1137.6 389.9,1149.3 391.6,1138.4 392.8,1133.4 394.1,1142.6 395.8,1150.2 397.1,1157.7 398.5,1145.1 399.5,1140.9 400.8,1150.2 402.1,1154.4 403.5,1145.1 404.8,1149.3 405.8,1158.6 406.3,1150.3 407.7,1138.5 409.0,1146.1 410.4,1135.2 411.7,1125.9 413.1,1131.8 414.4,1140.2 415.7,1143.6 417.1,1150.3 418.8,1155.3 420.4,1149.4 421.8,1141.9 423.1,1139.4 424.5,1143.6 425.8,1136.8 427.1,1143.6 428.5,1149.4 429.8,1151.9 431.2,1148.6 432.5,1152.8 433.9,1146.1 435.2,1140.2 436.5,1144.4 437.9,1139.4 439.2,1141.9 440.6,1146.1 441.9,1150.3 443.3,1146.9 444.6,1142.7 445.9,1146.9 447.3,1153.6 448.6,1159.5 450.0,1153.6 451.3,1146.1 452.7,1147.8 454.0,1142.7 455.3,1140.2 456.7,1141.0 458.0,1139.4 459.4,1145.2 460.7,1135.2 462.0,1125.1 463.1,1122.6 464.4,1133.5 465.7,1146.1 467.1,1141.9 468.4,1138.5 469.8,1145.2 471.1,1150.3 472.4,1151.9 473.8,1156.1 475.1,1159.5 476.5,1151.9 477.8,1143.6 479.2,1139.4 480.5,1144.4 481.8,1138.5 483.2,1140.2 484.5,1136.8 485.9,1140.2 487.2,1135.2 488.6,1131.8 489.9,1137.7 491.2,1142.7 492.6,1147.8 493.9,1131.0 495.3,1137.7 496.6,1150.3 498.0,1147.8 499.3,1146.1 500.6,1141.9 502.0,1138.5 503.3,1137.7 504.7,1141.9 506.0,1143.6 507.3,1145.2 508.7,1142.7 510.0,1140.2 511.4,1141.9 512.7,1145.2 514.1,1149.4 515.4,1146.1 516.7,1136.8 518.1,1130.1 519.4,1129.3 520.8,1143.6 522.1,1153.6 523.5,1140.2 524.8,1128.5 526.1,1126.8 527.5,1140.2 528.8,1151.1 530.2,1138.5 531.5,1130.1 532.9,1127.6 534.2,1134.3 535.0,1135.2 538.3,1114.4 540.6,1118.6 543.0,1120.2 545.3,1118.9 547.6,1114.4 552.3,1097.0 555.7,1076.1 558.1,1055.2 559.9,1054.1 562.2,1036.6 564.6,1020.4 567.3,1018.1 569.7,1009.9 572.0,999.5 573.9,1013.4 575.5,1003.0 577.8,1007.6 580.1,1008.8 583.6,1015.7 585.5,1018.1 587.8,1029.7 590.1,1045.9 592.4,1041.3 595.2,1057.5 597.5,1064.5 599.4,1080.8 601.7,1068.0 604.0,1106.3 606.8,1097.0 610.3,1092.4 613.8,1106.3 617.3,1124.9 619.6,1120.2 621.9,1111.0 626.6,1127.2 630.1,1123.7 633.5,1114.4 638.2,1134.2 640.0,1125.2 641.3,1119.3 642.7,1123.5 644.0,1121.8 645.4,1118.5 646.7,1120.1 648.1,1122.7 649.4,1119.3 650.7,1115.9 652.1,1116.8 653.4,1121.8 654.8,1119.3 656.1,1127.7 657.4,1131.0 658.8,1136.1 660.1,1143.6 661.8,1150.0 663.5,1147.8 664.8,1142.8 666.2,1141.9 667.5,1136.1 668.9,1131.9 670.2,1136.1 671.5,1140.3 672.9,1138.6 674.2,1139.4 675.6,1144.5 676.9,1141.1 678.3,1140.3 679.6,1141.1 680.9,1146.1 682.3,1141.9 683.6,1131.9 685.0,1129.4 686.3,1130.2 687.7,1125.2 689.0,1123.5 690.3,1130.2 691.3,1144.5 692.3,1136.1 693.4,1133.6 694.4,1141.9 695.7,1136.1 697.0,1118.5 698.4,1112.6 699.7,1118.5 701.1,1122.7 702.4,1126.8 703.8,1137.8 705.1,1141.9 706.4,1145.3 707.8,1147.8 709.1,1147.0 710.5,1138.6 711.8,1130.2 713.2,1132.7 714.5,1149.5 715.8,1141.9 717.2,1136.1 718.5,1130.2 719.9,1126.0 721.2,1125.2 722.6,1133.6 723.9,1140.3 725.2,1143.6 726.6,1145.3 727.9,1146.1 729.3,1143.6 730.6,1145.3 731.9,1148.7 733.3,1144.5 734.6,1141.9 736.0,1143.6 737.3,1136.1 738.7,1131.9 740.0,1126.0 741.3,1127.7 742.7,1131.9 744.0,1139.4 745.4,1149.5 746.7,1141.9 748.1,1136.1 749.4,1131.9 750.7,1133.6 752.1,1127.7 753.4,1126.8 754.8,1136.1 756.1,1139.4 757.4,1137.8 758.8,1145.3 760.1,1141.1 761.5,1139.4 762.8,1136.1 764.2,1137.8 765.2,1136.1" fill="none" stroke="#4a4e53" stroke-width="2.6" stroke-linejoin="round"/>
</g>
<path d="M179,824.8V905.5" stroke="#000" stroke-width="1.6" stroke-dasharray="3.8 3.5" fill="none"/>
<path d="M576.7,979.7V1061" stroke="#000" stroke-width="1.6" stroke-dasharray="3.8 3.5" fill="none"/>
<rect x="44.8" y="659.4" width="721.3" height="596.4" fill="none" stroke="#1a1a1a" stroke-width="1.7"/>
<path d="M64.84,1255.8v-5.6M84.87,1255.8v-5.6M104.91,1255.8v-5.6M124.94,1255.8v-11.2M144.98,1255.8v-5.6M165.02,1255.8v-5.6M185.05,1255.8v-5.6M205.09,1255.8v-5.6M225.12,1255.8v-11.2M245.16,1255.8v-5.6M265.20,1255.8v-5.6M285.23,1255.8v-5.6M305.27,1255.8v-5.6M325.31,1255.8v-11.2M345.34,1255.8v-5.6M365.38,1255.8v-5.6M385.41,1255.8v-5.6M405.45,1255.8v-5.6M425.49,1255.8v-11.2M445.52,1255.8v-5.6M465.56,1255.8v-5.6M485.59,1255.8v-5.6M505.63,1255.8v-5.6M525.67,1255.8v-11.2M545.70,1255.8v-5.6M565.74,1255.8v-5.6M585.77,1255.8v-5.6M605.81,1255.8v-5.6M625.85,1255.8v-11.2M645.88,1255.8v-5.6M665.92,1255.8v-5.6M685.96,1255.8v-5.6M705.99,1255.8v-5.6M726.03,1255.8v-11.2M746.06,1255.8v-5.6" stroke="#1a1a1a" stroke-width="1.6" fill="none"/>
<text transform="translate(124.9,1293.0) scale(1,1.045)" text-anchor="middle" font-size="30.2">930</text>
<text transform="translate(225.1,1293.0) scale(1,1.045)" text-anchor="middle" font-size="30.2">935</text>
<text transform="translate(325.3,1293.0) scale(1,1.045)" text-anchor="middle" font-size="30.2">940</text>
<text transform="translate(425.5,1293.0) scale(1,1.045)" text-anchor="middle" font-size="30.2">945</text>
<text transform="translate(525.7,1293.0) scale(1,1.045)" text-anchor="middle" font-size="30.2">950</text>
<text transform="translate(625.8,1293.0) scale(1,1.045)" text-anchor="middle" font-size="30.2">955</text>
<text transform="translate(726.0,1293.0) scale(1,1.045)" text-anchor="middle" font-size="30.2">960</text>
<text transform="translate(405.1,1336.9) scale(1,1.0)" text-anchor="middle" font-size="30.2">Binding energy / eV</text>
<text transform="translate(26.3,957.6) rotate(-90) scale(1.032,1.04)" text-anchor="middle" font-size="30.2">Intensity / a.u.</text>
<text transform="translate(65.3,703.9) scale(1,1.045)" font-size="30.2">(b)</text>
<text transform="translate(128.0,766.8) scale(1,1.045)" font-size="30.2">Cu 2p<tspan font-size="20.2" dy="8.7" dx="0.6">3/2</tspan></text>
<text transform="translate(131.0,809.4) scale(1,1.045)" font-size="30.2">932.78</text>
<text transform="translate(520.9,914.8) scale(1,1.045)" font-size="30.2">Cu 2p<tspan font-size="20.2" dy="8.7" dx="0.6">1/2</tspan></text>
<text transform="translate(527.7,956.4) scale(1,1.045)" font-size="30.2">952.44</text>
</g>
</svg>
</body>
</html>
